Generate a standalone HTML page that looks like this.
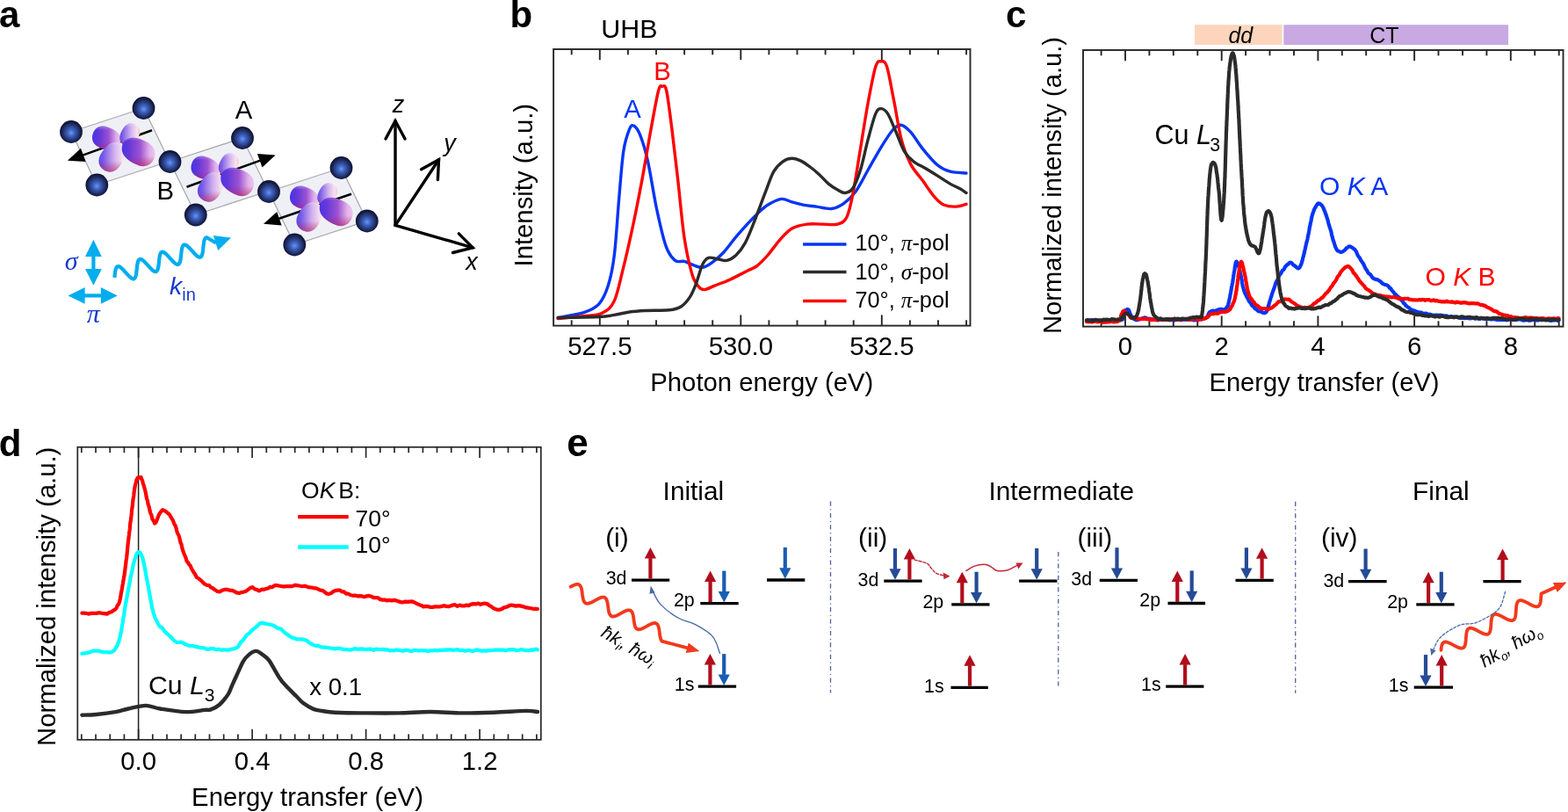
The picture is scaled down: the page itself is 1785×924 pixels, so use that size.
<!DOCTYPE html>
<html><head><meta charset="utf-8"><title>Figure</title>
<style>html,body{margin:0;padding:0;background:#fff;}body{width:1785px;height:924px;overflow:hidden;}svg{display:block;}</style>
</head><body>
<svg width="1785" height="924" viewBox="0 0 1785 924">
<rect width="1785" height="924" fill="#fff"/>
<defs>
<radialGradient id="sph" cx="0.5" cy="0.52" r="0.5" fx="0.5" fy="0.55">
<stop offset="0" stop-color="#6697f6"/><stop offset="0.3" stop-color="#4063c0"/><stop offset="0.68" stop-color="#243572"/><stop offset="0.9" stop-color="#141c44"/><stop offset="1" stop-color="#0c1130"/>
</radialGradient>
<linearGradient id="lobeA" x1="0" y1="0" x2="1" y2="1">
<stop offset="0" stop-color="#3b2be0"/><stop offset="0.35" stop-color="#8a3fd0"/><stop offset="0.65" stop-color="#e89ad8"/><stop offset="1" stop-color="#f07a70"/>
</linearGradient>
<linearGradient id="lobeB" x1="0" y1="0" x2="1" y2="0.6">
<stop offset="0" stop-color="#4030e8"/><stop offset="0.3" stop-color="#c8a0f0"/><stop offset="0.6" stop-color="#fbe6ee"/><stop offset="1" stop-color="#f0a070"/>
</linearGradient>
<linearGradient id="lobeC" x1="0" y1="0" x2="0.9" y2="1">
<stop offset="0" stop-color="#3a2ce6"/><stop offset="0.4" stop-color="#6a36c8"/><stop offset="0.75" stop-color="#b24cc0"/><stop offset="1" stop-color="#d85a8a"/>
</linearGradient>
</defs><text x="-1" y="31" font-family="'Liberation Sans', Arial, Helvetica, sans-serif" font-size="42" text-anchor="start" font-weight="bold" font-style="normal" fill="#000" >a</text><text x="580.5" y="31" font-family="'Liberation Sans', Arial, Helvetica, sans-serif" font-size="42" text-anchor="start" font-weight="bold" font-style="normal" fill="#000" >b</text><text x="1145" y="30.8" font-family="'Liberation Sans', Arial, Helvetica, sans-serif" font-size="42" text-anchor="start" font-weight="bold" font-style="normal" fill="#000" >c</text><text x="-1.2" y="519" font-family="'Liberation Sans', Arial, Helvetica, sans-serif" font-size="42" text-anchor="start" font-weight="bold" font-style="normal" fill="#000" >d</text><text x="645.3" y="519" font-family="'Liberation Sans', Arial, Helvetica, sans-serif" font-size="44" text-anchor="start" font-weight="bold" font-style="normal" fill="#000" >e</text><path d="M635.2 361.5C640.1 360.5 656.8 358.2 664.6 355.6C672.4 353 677.3 351 681.9 345.9C686.5 340.8 689.4 334.3 692.3 325.1C695.2 315.9 697.3 306.6 699.3 290.5C701.3 274.4 702.8 247.8 704.5 228.2C706.2 208.6 707.7 186.3 709.7 172.7C711.7 159.1 714.6 151.7 716.6 146.8C718.6 141.9 719.8 142.2 721.8 143.3C723.8 144.5 726.1 147.1 728.7 153.7C731.3 160.3 734.2 169 737.4 183.1C740.6 197.2 744.2 222.3 747.7 238.5C751.2 254.7 754.6 270.5 758.1 280.1C761.6 289.8 765 293.5 768.5 296.4C772 299.3 775.4 296.5 778.9 297.4C782.4 298.3 785.8 300.5 789.3 301.6C792.8 302.8 796.2 304.7 799.7 304.3C803.2 303.9 806.1 302.1 810.1 299.2C814.1 296.3 819.3 291.9 823.9 287C828.5 282.1 833.2 275.2 837.8 269.7C842.4 264.2 847.6 258.5 851.6 254.1C855.6 249.7 858.3 246.9 862 243.4C865.7 239.9 869.3 236.1 873.9 233.3C878.5 230.5 884.8 227 889.4 226.4C894 225.8 897.3 228.8 901.6 229.9C905.9 231.1 910.8 232.4 915.4 233.3C920 234.2 924.1 234.4 929.3 235.1C934.5 235.8 941.4 238.1 946.6 237.5C951.8 236.9 955.8 234.9 960.4 231.6C965 228.3 969.7 224 974.3 217.7C978.9 211.3 983.5 201.6 988.1 193.5C992.7 185.4 997.4 176.8 1002 169.3C1006.6 161.8 1011.9 153 1015.8 148.5C1019.7 144 1022 142 1025.5 142.3C1029 142.6 1032.4 145.7 1036.6 150.2C1040.8 154.7 1045.2 163 1050.4 169.3C1055.6 175.7 1062.6 184 1067.8 188.3C1073 192.6 1076.2 193.8 1081.6 195.2C1087 196.6 1096.9 196.7 1100 197" fill="none" stroke="#0535f5" stroke-width="3.4" stroke-linejoin="round" stroke-linecap="round" /><path d="M635.2 362.5C640.1 362.1 656.2 360.8 664.6 359.8C673 358.8 679.6 359.2 685.4 356.3C691.2 353.4 695.2 351.1 699.3 342.4C703.3 333.7 706.2 318.1 709.7 304.3C713.2 290.5 716.5 275.4 720 259.3C723.5 243.2 726.9 225.9 730.4 207.4C733.9 188.9 737.6 165.8 740.8 148.5C744 131.2 747.3 111.9 749.5 103.5C751.7 95.1 752.5 98.3 754 98.3C755.5 98.3 756.9 95.1 758.8 103.5C760.6 111.9 762.9 131.2 765.1 148.5C767.3 165.8 769.7 187.2 772 207.4C774.3 227.6 776.3 252.4 778.9 269.7C781.5 287 785 302.1 787.6 311.3C790.2 320.5 792.2 322.1 794.5 325.1C796.8 328.2 798.2 329.6 801.4 329.6C804.6 329.6 808.6 327 813.5 325.1C818.4 323.2 824.5 321.1 830.9 318.2C837.2 315.3 846.4 310.4 851.6 307.8C856.8 305.2 858.3 305.2 862 302.3C865.7 299.4 869.6 295.4 873.9 290.5C878.2 285.6 883.1 278.2 887.7 273.1C892.3 268 896.4 263 901.6 260C906.8 257 913.1 255.9 918.9 255.1C924.7 254.3 930.4 255.1 936.2 255.1C942 255.1 948.9 256.4 953.5 255.1C958.1 253.8 961 252.8 963.9 247.2C966.8 241.5 968.2 234.2 970.8 221.2C973.4 208.2 976.6 186.6 979.5 169.3C982.4 152 985.2 132.9 988.1 117.3C991 101.7 994.3 83.7 996.8 75.8C999.3 67.9 1000.9 69.8 1003 69.8C1005.1 69.8 1007.2 68.4 1009.6 75.8C1012 83.2 1014.7 100.1 1017.5 113.9C1020.3 127.8 1023 146.8 1026.2 158.9C1029.4 171 1032.6 178.8 1036.6 186.6C1040.6 194.4 1045.8 199.2 1050.4 205.6C1055 211.9 1060.2 220.1 1064.3 224.7C1068.3 229.3 1070.7 231.6 1074.7 233.3C1078.7 235 1084.3 235.3 1088.5 235.1C1092.7 234.9 1098.1 232.8 1100 232.3" fill="none" stroke="#ff0000" stroke-width="3.4" stroke-linejoin="round" stroke-linecap="round" /><path d="M635.2 361.5C643 361.3 671.3 361 682 360.5C692.7 360 693.5 359.3 699.3 358.4C705.1 357.5 710.8 355.8 716.6 355C722.4 354.2 726.4 353.9 733.9 353.5C741.4 353.1 754.7 353.6 761.6 352.8C768.5 352 771.5 351.3 775.5 348.7C779.5 346.1 782.9 341.8 785.8 337.3C788.7 332.8 790.5 327.8 792.8 321.7C795.1 315.6 797.4 305.6 799.7 300.9C802 296.2 803.7 294.3 806.6 293.3C809.5 292.3 813.5 294.2 817 294.7C820.5 295.2 823.9 297.1 827.4 296.4C830.9 295.7 834.3 293.8 837.8 290.5C841.3 287.2 844.7 283 848.2 276.6C851.7 270.2 854.9 261.6 858.6 252.4C862.3 243.2 866.7 230.7 870.4 221.2C874.1 211.7 877.3 201.4 880.8 195.2C884.3 189 887.7 186.3 891.2 183.8C894.7 181.3 898.2 180.4 901.6 180.3C905 180.2 908.5 181.5 911.9 183.1C915.3 184.7 918.8 187.4 922.3 190C925.8 192.6 929.2 195.5 932.7 198.7C936.2 201.9 939.6 206.2 943.1 209.1C946.6 212 950.3 214.3 953.5 216C956.7 217.7 959.2 219.8 962.1 219.5C965 219.2 967.9 218.6 970.8 214.3C973.7 210 976.6 202.7 979.5 193.5C982.4 184.3 985.2 169.6 988.1 158.9C991 148.2 994.3 135.3 996.8 129.4C999.3 123.5 1000.7 123.6 1003 123.6C1005.3 123.6 1007.9 125.2 1010.6 129.4C1013.3 133.6 1016.1 141.3 1019.3 148.5C1022.5 155.7 1026.2 166.8 1029.7 172.7C1033.2 178.6 1036 180.6 1040 183.8C1044 187 1049.3 189 1053.9 191.8C1058.5 194.6 1063.2 197.5 1067.8 200.4C1072.4 203.3 1077.6 206.8 1081.6 209.1C1085.6 211.4 1088.9 212.6 1092 214.3C1095.1 216 1098.7 218.6 1100 219.5" fill="none" stroke="#2b2b2b" stroke-width="3.4" stroke-linejoin="round" stroke-linecap="round" /><rect x="630.1" y="56" width="474.4" height="314.6" fill="none" stroke="#262626" stroke-width="1.9"/><line x1="650.7" y1="56" x2="650.7" y2="62.3" stroke="#262626" stroke-width="1.9" stroke-linecap="butt" /><line x1="650.7" y1="370.6" x2="650.7" y2="364.3" stroke="#262626" stroke-width="1.9" stroke-linecap="butt" /><line x1="714.9" y1="56" x2="714.9" y2="62.3" stroke="#262626" stroke-width="1.9" stroke-linecap="butt" /><line x1="714.9" y1="370.6" x2="714.9" y2="364.3" stroke="#262626" stroke-width="1.9" stroke-linecap="butt" /><line x1="747" y1="56" x2="747" y2="62.3" stroke="#262626" stroke-width="1.9" stroke-linecap="butt" /><line x1="747" y1="370.6" x2="747" y2="364.3" stroke="#262626" stroke-width="1.9" stroke-linecap="butt" /><line x1="779.1" y1="56" x2="779.1" y2="62.3" stroke="#262626" stroke-width="1.9" stroke-linecap="butt" /><line x1="779.1" y1="370.6" x2="779.1" y2="364.3" stroke="#262626" stroke-width="1.9" stroke-linecap="butt" /><line x1="811.2" y1="56" x2="811.2" y2="62.3" stroke="#262626" stroke-width="1.9" stroke-linecap="butt" /><line x1="811.2" y1="370.6" x2="811.2" y2="364.3" stroke="#262626" stroke-width="1.9" stroke-linecap="butt" /><line x1="875.4" y1="56" x2="875.4" y2="62.3" stroke="#262626" stroke-width="1.9" stroke-linecap="butt" /><line x1="875.4" y1="370.6" x2="875.4" y2="364.3" stroke="#262626" stroke-width="1.9" stroke-linecap="butt" /><line x1="907.5" y1="56" x2="907.5" y2="62.3" stroke="#262626" stroke-width="1.9" stroke-linecap="butt" /><line x1="907.5" y1="370.6" x2="907.5" y2="364.3" stroke="#262626" stroke-width="1.9" stroke-linecap="butt" /><line x1="939.6" y1="56" x2="939.6" y2="62.3" stroke="#262626" stroke-width="1.9" stroke-linecap="butt" /><line x1="939.6" y1="370.6" x2="939.6" y2="364.3" stroke="#262626" stroke-width="1.9" stroke-linecap="butt" /><line x1="971.7" y1="56" x2="971.7" y2="62.3" stroke="#262626" stroke-width="1.9" stroke-linecap="butt" /><line x1="971.7" y1="370.6" x2="971.7" y2="364.3" stroke="#262626" stroke-width="1.9" stroke-linecap="butt" /><line x1="1035.9" y1="56" x2="1035.9" y2="62.3" stroke="#262626" stroke-width="1.9" stroke-linecap="butt" /><line x1="1035.9" y1="370.6" x2="1035.9" y2="364.3" stroke="#262626" stroke-width="1.9" stroke-linecap="butt" /><line x1="1068" y1="56" x2="1068" y2="62.3" stroke="#262626" stroke-width="1.9" stroke-linecap="butt" /><line x1="1068" y1="370.6" x2="1068" y2="364.3" stroke="#262626" stroke-width="1.9" stroke-linecap="butt" /><line x1="1100.1" y1="56" x2="1100.1" y2="62.3" stroke="#262626" stroke-width="1.9" stroke-linecap="butt" /><line x1="1100.1" y1="370.6" x2="1100.1" y2="364.3" stroke="#262626" stroke-width="1.9" stroke-linecap="butt" /><line x1="682.8" y1="56" x2="682.8" y2="68.2" stroke="#262626" stroke-width="1.9" stroke-linecap="butt" /><line x1="682.8" y1="370.6" x2="682.8" y2="358.4" stroke="#262626" stroke-width="1.9" stroke-linecap="butt" /><line x1="843.3" y1="56" x2="843.3" y2="68.2" stroke="#262626" stroke-width="1.9" stroke-linecap="butt" /><line x1="843.3" y1="370.6" x2="843.3" y2="358.4" stroke="#262626" stroke-width="1.9" stroke-linecap="butt" /><line x1="1003.8" y1="56" x2="1003.8" y2="68.2" stroke="#262626" stroke-width="1.9" stroke-linecap="butt" /><line x1="1003.8" y1="370.6" x2="1003.8" y2="358.4" stroke="#262626" stroke-width="1.9" stroke-linecap="butt" /><text x="682.8" y="404.2" font-family="'Liberation Sans', Arial, Helvetica, sans-serif" font-size="29.3" text-anchor="middle" font-weight="normal" font-style="normal" fill="#000" >527.5</text><text x="843.3" y="404.2" font-family="'Liberation Sans', Arial, Helvetica, sans-serif" font-size="29.3" text-anchor="middle" font-weight="normal" font-style="normal" fill="#000" >530.0</text><text x="1003.8" y="404.2" font-family="'Liberation Sans', Arial, Helvetica, sans-serif" font-size="29.3" text-anchor="middle" font-weight="normal" font-style="normal" fill="#000" >532.5</text><text x="867.3" y="444.6" font-family="'Liberation Sans', Arial, Helvetica, sans-serif" font-size="29.3" text-anchor="middle" font-weight="normal" font-style="normal" fill="#000" >Photon energy (eV)</text><text x="606" y="210.7" font-family="'Liberation Sans', Arial, Helvetica, sans-serif" font-size="29.3" text-anchor="middle" font-weight="normal" font-style="normal" fill="#000" transform="rotate(-90 606 210.7)">Intensity (a.u.)</text><text x="684.3" y="42.6" font-family="'Liberation Sans', Arial, Helvetica, sans-serif" font-size="30.4" text-anchor="start" font-weight="normal" font-style="normal" fill="#000" >UHB</text><text x="720" y="133.6" font-family="'Liberation Sans', Arial, Helvetica, sans-serif" font-size="29.3" text-anchor="middle" font-weight="normal" font-style="normal" fill="#0535f5" >A</text><text x="754" y="91.4" font-family="'Liberation Sans', Arial, Helvetica, sans-serif" font-size="29.3" text-anchor="middle" font-weight="normal" font-style="normal" fill="#ff0000" >B</text><line x1="914.1" y1="278" x2="963.5" y2="278" stroke="#0535f5" stroke-width="3.3" stroke-linecap="butt" /><line x1="914.1" y1="309.5" x2="963.5" y2="309.5" stroke="#2b2b2b" stroke-width="3.3" stroke-linecap="butt" /><line x1="914.1" y1="342.5" x2="963.5" y2="342.5" stroke="#ff0000" stroke-width="3.3" stroke-linecap="butt" /><text x="973.4" y="285.1" font-family="'Liberation Sans', Arial, Helvetica, sans-serif" font-size="25.3" fill="#000">10°, <tspan font-family="'Liberation Serif', 'Times New Roman', serif" font-style="italic">π</tspan>-pol</text><text x="973.4" y="317.5" font-family="'Liberation Sans', Arial, Helvetica, sans-serif" font-size="25.3" fill="#000">10°, <tspan font-family="'Liberation Serif', 'Times New Roman', serif" font-style="italic">σ</tspan>-pol</text><text x="973.4" y="349.9" font-family="'Liberation Sans', Arial, Helvetica, sans-serif" font-size="25.3" fill="#000">70°, <tspan font-family="'Liberation Serif', 'Times New Roman', serif" font-style="italic">π</tspan>-pol</text><rect x="1360" y="28.2" width="99.6" height="22.8" fill="#fdd5bd"/><rect x="1461.3" y="28.2" width="255.8" height="22.8" fill="#c8a9e2"/><text x="1412.3" y="49.4" font-family="'Liberation Sans', Arial, Helvetica, sans-serif" font-size="25" text-anchor="middle" font-weight="normal" font-style="italic" fill="#000" >dd</text><text x="1575.8" y="49.4" font-family="'Liberation Sans', Arial, Helvetica, sans-serif" font-size="25" text-anchor="middle" font-weight="normal" font-style="normal" fill="#000" >CT</text><rect x="1233" y="57" width="546.5" height="314.6" fill="none" stroke="#262626" stroke-width="1.9"/><line x1="1253.6" y1="57" x2="1253.6" y2="63.3" stroke="#262626" stroke-width="1.9" stroke-linecap="butt" /><line x1="1253.6" y1="371.6" x2="1253.6" y2="365.3" stroke="#262626" stroke-width="1.9" stroke-linecap="butt" /><line x1="1308.4" y1="57" x2="1308.4" y2="63.3" stroke="#262626" stroke-width="1.9" stroke-linecap="butt" /><line x1="1308.4" y1="371.6" x2="1308.4" y2="365.3" stroke="#262626" stroke-width="1.9" stroke-linecap="butt" /><line x1="1335.8" y1="57" x2="1335.8" y2="63.3" stroke="#262626" stroke-width="1.9" stroke-linecap="butt" /><line x1="1335.8" y1="371.6" x2="1335.8" y2="365.3" stroke="#262626" stroke-width="1.9" stroke-linecap="butt" /><line x1="1363.3" y1="57" x2="1363.3" y2="63.3" stroke="#262626" stroke-width="1.9" stroke-linecap="butt" /><line x1="1363.3" y1="371.6" x2="1363.3" y2="365.3" stroke="#262626" stroke-width="1.9" stroke-linecap="butt" /><line x1="1418.1" y1="57" x2="1418.1" y2="63.3" stroke="#262626" stroke-width="1.9" stroke-linecap="butt" /><line x1="1418.1" y1="371.6" x2="1418.1" y2="365.3" stroke="#262626" stroke-width="1.9" stroke-linecap="butt" /><line x1="1445.5" y1="57" x2="1445.5" y2="63.3" stroke="#262626" stroke-width="1.9" stroke-linecap="butt" /><line x1="1445.5" y1="371.6" x2="1445.5" y2="365.3" stroke="#262626" stroke-width="1.9" stroke-linecap="butt" /><line x1="1473" y1="57" x2="1473" y2="63.3" stroke="#262626" stroke-width="1.9" stroke-linecap="butt" /><line x1="1473" y1="371.6" x2="1473" y2="365.3" stroke="#262626" stroke-width="1.9" stroke-linecap="butt" /><line x1="1527.8" y1="57" x2="1527.8" y2="63.3" stroke="#262626" stroke-width="1.9" stroke-linecap="butt" /><line x1="1527.8" y1="371.6" x2="1527.8" y2="365.3" stroke="#262626" stroke-width="1.9" stroke-linecap="butt" /><line x1="1555.2" y1="57" x2="1555.2" y2="63.3" stroke="#262626" stroke-width="1.9" stroke-linecap="butt" /><line x1="1555.2" y1="371.6" x2="1555.2" y2="365.3" stroke="#262626" stroke-width="1.9" stroke-linecap="butt" /><line x1="1582.7" y1="57" x2="1582.7" y2="63.3" stroke="#262626" stroke-width="1.9" stroke-linecap="butt" /><line x1="1582.7" y1="371.6" x2="1582.7" y2="365.3" stroke="#262626" stroke-width="1.9" stroke-linecap="butt" /><line x1="1637.5" y1="57" x2="1637.5" y2="63.3" stroke="#262626" stroke-width="1.9" stroke-linecap="butt" /><line x1="1637.5" y1="371.6" x2="1637.5" y2="365.3" stroke="#262626" stroke-width="1.9" stroke-linecap="butt" /><line x1="1665" y1="57" x2="1665" y2="63.3" stroke="#262626" stroke-width="1.9" stroke-linecap="butt" /><line x1="1665" y1="371.6" x2="1665" y2="365.3" stroke="#262626" stroke-width="1.9" stroke-linecap="butt" /><line x1="1692.4" y1="57" x2="1692.4" y2="63.3" stroke="#262626" stroke-width="1.9" stroke-linecap="butt" /><line x1="1692.4" y1="371.6" x2="1692.4" y2="365.3" stroke="#262626" stroke-width="1.9" stroke-linecap="butt" /><line x1="1747.2" y1="57" x2="1747.2" y2="63.3" stroke="#262626" stroke-width="1.9" stroke-linecap="butt" /><line x1="1747.2" y1="371.6" x2="1747.2" y2="365.3" stroke="#262626" stroke-width="1.9" stroke-linecap="butt" /><line x1="1774.7" y1="57" x2="1774.7" y2="63.3" stroke="#262626" stroke-width="1.9" stroke-linecap="butt" /><line x1="1774.7" y1="371.6" x2="1774.7" y2="365.3" stroke="#262626" stroke-width="1.9" stroke-linecap="butt" /><line x1="1281" y1="57" x2="1281" y2="69.2" stroke="#262626" stroke-width="1.9" stroke-linecap="butt" /><line x1="1281" y1="371.6" x2="1281" y2="359.4" stroke="#262626" stroke-width="1.9" stroke-linecap="butt" /><line x1="1390.7" y1="57" x2="1390.7" y2="69.2" stroke="#262626" stroke-width="1.9" stroke-linecap="butt" /><line x1="1390.7" y1="371.6" x2="1390.7" y2="359.4" stroke="#262626" stroke-width="1.9" stroke-linecap="butt" /><line x1="1500.4" y1="57" x2="1500.4" y2="69.2" stroke="#262626" stroke-width="1.9" stroke-linecap="butt" /><line x1="1500.4" y1="371.6" x2="1500.4" y2="359.4" stroke="#262626" stroke-width="1.9" stroke-linecap="butt" /><line x1="1610.1" y1="57" x2="1610.1" y2="69.2" stroke="#262626" stroke-width="1.9" stroke-linecap="butt" /><line x1="1610.1" y1="371.6" x2="1610.1" y2="359.4" stroke="#262626" stroke-width="1.9" stroke-linecap="butt" /><line x1="1719.8" y1="57" x2="1719.8" y2="69.2" stroke="#262626" stroke-width="1.9" stroke-linecap="butt" /><line x1="1719.8" y1="371.6" x2="1719.8" y2="359.4" stroke="#262626" stroke-width="1.9" stroke-linecap="butt" /><path d="M1237 364.8L1237.9 364.5L1239 364.2L1240.2 364.5L1241.7 364.3L1243.2 364.1L1244.8 364.5L1246.6 365.2L1248.4 365.3L1250.3 365.3L1252.3 364.6L1254.3 364.8L1256.2 364.5L1258.2 364.3L1260.2 364.1L1262.1 364.2L1264 365.1L1265.8 365.2L1267.5 365.2L1269.1 365.2L1270.5 364.3L1271.9 364.2L1273 364.5L1274 364.6L1277.8 363.8L1278 362.4L1278 359.7L1278.8 358.4L1279.6 356.8L1280.3 354.9L1281 353.1L1283.5 351.9L1284.7 352.4L1286 355.4L1286.6 357.1L1287.3 358.5L1288 359.9L1289 362L1290.7 362.9L1292.7 363.8L1295 364.1L1296.5 363.5L1298.1 362.9L1299.8 362.5L1301.4 361.9L1303 361.4L1304.3 361.6L1305.1 362.8L1306.7 362.6L1310 362.8L1311.1 363.5L1312.3 363.3L1313.7 363.6L1315.1 363.7L1316.7 363.6L1318.3 364.4L1320 363.7L1321.8 363.7L1323.6 363.5L1325.4 364L1327.3 363.7L1329.1 363.8L1331 364.3L1332.9 363.9L1334.7 364.1L1336.5 364.6L1338.3 363.7L1340 363.3L1341.7 363.4L1343.5 364.1L1345.3 364.1L1347.1 363.6L1349 363.6L1350.8 363.4L1352.7 363.6L1354.6 363.2L1356.4 363.8L1358.2 364.2L1359.9 364.3L1361.6 364L1363.3 364.1L1364.8 362.9L1366.3 362.7L1367.6 363.4L1368.9 363.2L1370 362.5L1372.6 362.1L1374.1 360.6L1375.1 359.3L1375.8 357.2L1376.6 355.6L1377.8 354.8L1379.4 353.8L1381.2 353.6L1383 354.1L1384.9 353.3L1386.7 352.5L1388.4 351.9L1390.3 351.8L1392.2 352.6L1394 352.1L1395.7 351L1397.2 348.6L1397.7 348.6L1398.1 347L1398.5 345.2L1398.9 343.4L1399.3 341.7L1399.7 340.1L1400 339L1400.3 336.6L1400.7 334.5L1401 333.1L1401.3 331.1L1401.6 330.2L1401.9 327.5L1402.2 326.1L1402.5 324.9L1402.8 322.8L1403.2 321.6L1403.5 319.3L1403.8 317L1404.1 315.3L1404.3 313L1404.6 311.6L1404.9 309.8L1405.1 309L1405.4 307.7L1405.6 305.9L1405.8 304L1406 302.9L1406.6 299.5L1407.1 297.7L1407.7 297.6L1408.2 298.9L1408.7 299.1L1409.3 300L1409.9 302.7L1410.6 304.6L1411.3 307.7L1411.6 308.3L1411.9 310.1L1412.2 311.4L1412.5 313.1L1412.7 314.7L1413 316.2L1413.4 317.4L1413.7 319.2L1414 321.8L1414.4 323.9L1414.8 325.8L1415.2 326.9L1415.6 328.7L1416.1 330.6L1416.6 331.9L1417.3 333.8L1418.1 335.2L1418.9 337L1419.7 338.7L1420.6 339.8L1421.5 342L1422.5 343.7L1423.4 344.1L1424.4 346.2L1425.3 347.7L1426.2 348.6L1427.1 348.8L1428.6 351.2L1430.2 351.8L1431.8 353.7L1433.3 354.5L1434.8 354.4L1436.1 354.8L1437.3 355.7L1439.3 356.1L1440.8 355.8L1442.2 353.9L1442.7 352.1L1443.1 350.4L1443.6 350L1444 347.6L1444.5 346.8L1444.9 344.3L1445.4 343.2L1445.9 341.5L1446.4 339.9L1447 337.7L1447.5 336.7L1448 334.4L1448.5 333.3L1449.1 331.4L1449.6 330.4L1450.2 328.8L1450.8 326.8L1451.4 325.2L1452 323L1452.6 321.3L1453.1 320.5L1453.7 319.2L1454.3 318.4L1455.2 316.4L1456.1 313.9L1457.1 312.4L1458 311.4L1458.9 309.8L1459.9 307.7L1460.8 307.3L1461.7 306.3L1462.9 303.8L1464.1 302.6L1465.4 301.1L1466.6 300.5L1467.8 299.2L1469 298.6L1470.5 299.3L1472 301.3L1473.6 302.1L1475 303.3L1476.3 304.6L1478 305.5L1479.4 304.6L1481.1 301L1481.4 300.4L1481.8 299.4L1482.2 297.2L1482.6 296.6L1483 294.4L1483.4 292.8L1483.8 291.8L1484.2 289.7L1484.7 288.3L1485.1 285.8L1485.5 284.7L1486 282.1L1486.4 280L1486.8 278.5L1487.2 276.6L1487.6 275.1L1488 273.9L1488.4 272.1L1488.8 269.6L1489.1 268L1489.5 266.6L1489.8 264.8L1490.2 263.3L1490.5 261.3L1490.8 259L1491.2 257.2L1491.5 256.2L1491.8 254.1L1492.1 252.8L1492.5 251.6L1492.8 249.7L1493.1 248.1L1493.5 246.5L1493.8 244.8L1494.1 244.1L1494.5 242.6L1495.3 240.7L1496.2 238L1497 236.7L1497.9 235.2L1498.7 233.8L1499.6 232.5L1500.5 231.5L1501.3 231.8L1502.4 231.7L1503.5 232.8L1504.6 233.5L1505.7 235.1L1506.8 237.2L1507.9 240.3L1508.4 241L1508.9 243.1L1509.5 244.1L1510 245.8L1510.5 247.2L1511 249.2L1511.5 250.4L1512 252.3L1512.5 254.9L1513 255.9L1513.5 258L1514 259.4L1514.5 260.9L1515 262.2L1515.4 263.8L1515.9 266.7L1516.4 268.7L1516.9 270.4L1517.4 272.2L1517.8 274.1L1518.3 274.8L1518.8 276.5L1519.2 277.9L1519.7 279.3L1520.1 280.9L1521.4 283.5L1522.6 285.5L1523.8 285.5L1525 286.5L1526.6 286.9L1528.1 286.5L1529.8 285.4L1531.2 284.4L1532.8 282.3L1534.3 281.5L1535.9 280.3L1537.4 280.5L1538.9 281.6L1540.4 282.6L1542 283.8L1542.8 284.6L1543.7 285.9L1544.5 287.7L1545.4 289.9L1546.3 291.6L1547.3 292.7L1548.3 294.2L1549.3 296.5L1550.1 297.3L1550.9 298.7L1551.8 299.7L1552.6 301.3L1553.5 303.4L1554.4 305.3L1555.4 306.8L1556.3 308L1557.2 310L1558.1 311.1L1559 311.6L1560.4 312.7L1561.7 315L1563.1 316.4L1564.4 317.3L1565.8 317.7L1567.3 318.1L1568.8 318.6L1570.2 319.6L1571.7 320.4L1573.2 322.1L1574.8 323.1L1576.3 323.8L1577.9 324L1579.5 324.9L1581 326.1L1582.1 327.9L1583.2 328.3L1584.3 330.1L1585.4 331.3L1586.5 332.5L1587.6 334.3L1588.7 334.8L1589.8 336.3L1590.9 337.1L1592 338.1L1593.1 339.1L1594.3 340.7L1595.5 341.7L1596.7 342.8L1597.9 345.1L1599 345.7L1600.2 347.5L1601.5 348.5L1602.7 349.5L1604 350.3L1605.3 351.6L1606.8 352.5L1608.3 353L1609.9 353.5L1611.5 354.2L1613.1 354.9L1614.8 355.2L1616.4 355.6L1618.2 355.6L1619.9 356.8L1621.4 356.9L1622.8 356.7L1624.2 356.9L1625.6 358L1627.1 357.7L1628.6 357.9L1630.4 358.4L1632.3 358.9L1634.5 358.6L1637 358.7L1638.2 358.9L1639.5 358.5L1640.9 359.6L1642.3 358.9L1643.7 360L1645.2 359.4L1646.8 359.3L1648.3 360.2L1649.9 360.6L1651.6 360L1653.3 360.4L1655 360.5L1656.7 360.9L1658.5 360.5L1660.3 361.2L1662.1 361.8L1664 361.7L1665.9 362L1667.7 362.2L1669.7 361.6L1671.6 362.1L1673.5 362.4L1674.9 362.2L1676.4 361.6L1677.9 362.1L1679.4 362.7L1680.9 362.1L1682.4 362.4L1684 362.9L1685.5 362.7L1687.1 362L1688.7 362.6L1690.3 362.4L1691.9 363.1L1693.6 363.1L1695.2 362.7L1696.9 363.4L1698.5 363.3L1700.2 363L1701.9 363.5L1703.6 363.8L1705.2 364L1706.9 364L1708.6 363.8L1710.3 363.8L1712 363.8L1713.7 363.7L1715.4 364.3L1717.1 363.7L1718.8 363.2L1720.5 363.9L1722.2 363.8L1723.8 363.9L1725.5 364L1727.2 363.6L1728.9 363.5L1730.7 363.3L1732.5 364.1L1734.4 364.6L1736.2 364.5L1738.1 363.7L1740 364.6L1741.9 364.7L1743.8 364.3L1745.8 363.6L1747.6 364.4L1749.5 364.4L1751.4 364.4L1753.2 363.6L1755 364.3L1756.8 363.7L1758.6 364L1760.3 363.7L1761.9 363.9L1763.5 364.6L1765 364.7L1766.5 364.8L1767.9 364.2L1769.2 364.1L1770.4 364.4L1771.6 363.7L1772.7 364L1773.6 364.8L1774.5 364.3" fill="none" stroke="#0535f5" stroke-width="4.2" stroke-linejoin="round" stroke-linecap="round" /><path d="M1237 366.2L1237.9 365.9L1239.1 366.1L1240.4 366L1241.9 366.3L1243.6 366.4L1245.4 365.7L1247.2 365.5L1249.2 366.4L1251.2 366L1253.2 365.8L1255.3 366.8L1257.3 366.4L1259.4 366.7L1261.3 366.3L1263.2 366.4L1265.1 365.7L1266.8 366.1L1268.3 366.4L1269.7 366L1271 366.1L1272 365.9L1275.2 364.1L1276 363.4L1275.8 361.8L1276 359.8L1276.8 357.5L1277.6 356.3L1278.4 354.3L1279.3 353.7L1280.4 354.3L1281.6 355.4L1283 357.2L1284.6 358.1L1285.5 359.2L1286 359.7L1286.7 361.1L1287.9 362L1290 361.7L1293.4 362L1294.4 362.2L1295.6 363.2L1296.8 362.9L1298.1 363.1L1299.5 362.8L1301 363L1302.5 362.9L1304.2 362.9L1305.8 363.2L1307.5 363.3L1309.3 363.8L1311 363.7L1312.9 363.9L1314.7 363.9L1316.5 364.1L1318.4 363.8L1320.2 363L1322 363.7L1323.9 364L1325.7 364L1327.4 363.6L1329.2 363.7L1330.9 363L1332.5 363.6L1334.1 363.5L1335.6 363.1L1337.4 362.7L1339.2 363.6L1341 364L1342.8 363L1344.6 363.6L1346.5 363.3L1348.3 362.9L1350.1 362.9L1351.9 363.5L1353.7 363.8L1355.4 362.9L1357.1 363.3L1358.8 362.7L1360.4 363.3L1361.9 363L1363.4 363.5L1364.9 363.8L1366.2 363.2L1367.5 363.6L1368.7 362.8L1369.8 362.2L1370.8 362.6L1373.9 361.3L1375.5 360.4L1376.1 359.6L1376.6 358.9L1377.8 357.6L1379.4 356.8L1381.1 357.3L1382.9 356.5L1384.7 356.8L1386.6 356.6L1388.4 355.5L1390.2 355.1L1392.1 355L1393.9 355L1395.7 354.7L1397.4 354L1399 352.9L1400 352.3L1400.9 350.8L1401.7 349.3L1402.5 348.2L1403.3 346.2L1404 344.4L1404.7 343.4L1405.4 341L1406 338.7L1406.3 336.7L1406.6 335.6L1406.9 334.3L1407.2 332L1407.5 330.8L1407.7 329.2L1408 326.7L1408.2 325.4L1408.5 323.5L1408.7 321.9L1408.9 319.7L1409.2 318.3L1409.4 316.7L1409.6 314.2L1409.8 312.5L1410 311.8L1410.2 311.1L1410.7 307.6L1411.1 305L1411.5 302.9L1411.8 300.7L1412.2 299.1L1412.6 298.1L1413 297.8L1413.4 298.4L1413.8 298.9L1414.2 300.2L1414.6 302.3L1415.1 303.4L1415.6 305.9L1416.1 308.5L1416.6 310.3L1416.9 311.4L1417.2 313.5L1417.5 314.6L1417.8 316L1418.1 318L1418.4 320.2L1418.7 321.4L1419 323.4L1419.4 325.2L1419.7 327.7L1420.1 329.1L1420.5 331.2L1420.9 332.1L1421.3 333.5L1421.8 335.2L1422.6 337.6L1423.5 338.9L1424.5 340.1L1425.4 341.3L1426.5 343L1427.5 343.9L1428.6 345.7L1429.6 347L1430.6 347.2L1432.1 348.3L1433.7 349.9L1435.2 350.6L1436.8 351.3L1438.3 351.2L1439.7 351.1L1441.7 351.5L1443.5 352.1L1445.2 351.4L1447 350.6L1448.4 349.8L1449.8 348.6L1451.2 347.3L1452.7 346.5L1454.3 344.5L1455.8 343.1L1457.5 343.1L1459.2 342.3L1460.9 341.6L1462.6 340.4L1464.1 340.5L1465.7 340.8L1467.2 340.5L1468.6 341.8L1470 343.1L1471.4 344L1472.8 344.8L1474.2 345.7L1475.6 347L1477.1 348L1478.7 348.5L1480.1 349.6L1481.7 349.7L1483.2 350.6L1484.9 349.8L1486.6 350.5L1488.4 350.1L1489.8 349.8L1491.3 349.2L1492.8 348.5L1494.3 347.2L1495.9 345.3L1497.5 344.9L1499.1 343.2L1500.6 342L1501.8 341.5L1503.1 340.4L1504.3 339.1L1505.6 338.5L1506.9 337.1L1508.1 335.4L1509.3 333.8L1510.5 333.2L1511.7 331.6L1512.8 330.6L1513.9 328.7L1514.9 327L1516 325.8L1517 324.7L1518 322.4L1518.9 321.5L1519.8 320.3L1520.8 318.8L1521.6 317.5L1522.5 315.2L1523.7 313.9L1524.8 312.7L1525.9 310.2L1527 308.8L1528 307.5L1528.9 306.7L1529.8 305.7L1531.4 304.1L1532.8 303.7L1534.2 302.9L1535.4 303.2L1536.6 304.2L1537.9 305.6L1539.6 307.6L1540.4 309.7L1541.3 311.1L1542.2 311.5L1543.2 313.1L1544.2 314.4L1545.2 315.9L1546.3 317.4L1547.3 319.2L1548.3 320.6L1549.3 321.6L1550.5 322.7L1551.7 324.2L1552.8 325.2L1554 327L1555.2 328.5L1556.4 329.3L1557.7 329.9L1559 330.8L1560.4 331.9L1561.8 333.1L1563.2 334.1L1564.6 334.3L1566.2 335.2L1567.7 335.6L1569.4 335.8L1571.2 336.1L1572.7 336.6L1574.2 337.2L1575.7 337.2L1577.3 337.7L1579 337.7L1580.7 337.5L1582.5 338L1584.3 338.5L1586.3 338L1588.3 338.5L1589.7 338.7L1591.2 339.5L1592.7 339.9L1594.3 339.4L1595.9 340.1L1597.5 340.2L1599.2 339.7L1600.8 340L1602.5 339.7L1604.2 340.6L1605.9 340.8L1607.6 341.3L1609.3 341.4L1611 341.3L1612.6 341.5L1614.2 341.4L1615.8 340.9L1617.5 341.4L1619.1 340.9L1620.7 341L1622.4 341.8L1624 341.2L1625.6 341.1L1627.2 341.2L1628.9 342.2L1630.5 341.7L1632.1 341.4L1633.8 342.4L1635.4 341.9L1637 342.7L1638.6 342.8L1640.3 343.1L1641.9 343.5L1643.5 343.2L1645.2 343.5L1646.8 342.7L1648.5 343.5L1650.1 343.5L1651.8 343.8L1653.4 343.3L1655 344L1656.6 344.5L1658.2 343.7L1659.7 343.8L1661.3 344.3L1663.1 344.8L1664.9 344.4L1666.8 344.2L1668.6 344.3L1670.4 344.9L1672.3 345.3L1674 345.1L1675.8 345.1L1677.4 345.2L1679 345.3L1680.5 345.5L1681.9 345.2L1683.2 345.8L1685.5 347L1687.4 346.9L1688.9 347.7L1690.2 347.6L1691.5 348.7L1693 349.6L1694.6 350.3L1696.1 350.9L1697.7 351.8L1699.3 352.9L1700.9 354.2L1702.7 354.2L1704.1 354.6L1705.4 355.9L1706.8 357L1708.2 357.3L1709.7 357.7L1711.3 358.6L1713 358.6L1714.9 359L1716.2 359.2L1717.5 359.9L1718.8 360L1720.1 360L1721.5 360.8L1722.9 361.5L1724.4 361L1726.1 361.5L1727.9 361.4L1729.9 362L1732 361.9L1734.4 361.6L1735.7 361.4L1737 361.2L1738.5 361.7L1740.1 361.8L1741.7 361.6L1743.5 361.7L1745.3 361.8L1747.1 362.4L1749 361.8L1750.9 362.7L1752.8 362.3L1754.7 362.4L1756.6 362.2L1758.5 362.6L1760.4 362.8L1762.2 362.5L1763.9 362.3L1765.6 362.5L1767.2 362.8L1768.7 362.3L1770.1 362.6L1771.4 362.9L1772.6 362.4L1773.6 362L1774.5 362.3" fill="none" stroke="#ff0000" stroke-width="4.2" stroke-linejoin="round" stroke-linecap="round" /><path d="M1237 364.3L1237.9 364.4L1239 364.6L1240.3 364.7L1241.7 364.9L1243.2 364.7L1244.9 364.9L1246.6 363.8L1248.5 364L1250.4 364.6L1252.3 364.4L1254.3 364.7L1256.3 363.7L1258.2 363.9L1260.2 363.6L1262 363.9L1263.8 364L1265.6 363.2L1267.2 363.3L1268.7 363.3L1270 364.1L1271.2 364.1L1272.2 363.3L1276.1 363.5L1276.7 362.3L1277 362L1278.7 359.8L1280 357.7L1282.3 356.5L1284 357.1L1286 358.6L1287.5 360.5L1289 361.6L1290.5 361.2L1291.9 361.6L1293.2 360.4L1294.5 358.3L1294.9 356.7L1295.2 356.2L1295.6 354.7L1295.9 353.5L1296.3 351.9L1296.6 349.5L1297 347.5L1297.3 345.4L1297.6 343.5L1297.9 341.5L1298.1 340.2L1298.3 339.1L1298.5 336.8L1298.7 335.7L1298.9 333.7L1299.1 331.8L1299.3 330.6L1299.5 328.6L1299.6 326.6L1299.8 325.1L1300 323.9L1300.2 321.8L1300.4 321.5L1300.8 318L1301.3 316.3L1301.7 314.6L1302.2 312.1L1302.7 311.8L1303.2 311.1L1303.7 311.6L1304.3 311.7L1304.9 313L1305.4 315L1306.1 318.5L1306.7 320.7L1306.9 322.4L1307.2 324.2L1307.4 325.8L1307.6 326.7L1307.9 328.3L1308.1 330.2L1308.4 332.4L1308.6 333.6L1308.9 336.1L1309.1 338.2L1309.4 340.3L1309.6 341.1L1309.9 343.7L1310.2 344.6L1310.4 346.2L1310.7 348L1311 349.7L1311.5 351.5L1311.9 354.2L1312.3 355.7L1312.7 356.8L1313.2 358.1L1313.9 359L1314.9 359.9L1316.2 360.9L1317.3 362.1L1318.5 363.1L1319.8 362.6L1321.3 362.4L1322.8 363.7L1324.5 363.5L1326.2 363.3L1328 363.1L1329.8 363.4L1331.7 363.8L1333.6 363.4L1335.6 363.2L1337.1 362.7L1338.7 363.6L1340.3 362.6L1342.1 362.9L1344 363.3L1345.8 362.5L1347.7 362.9L1349.6 363.1L1351.5 362.7L1353.4 362.6L1355.2 361.6L1356.9 361.6L1358.6 361L1360.1 361.5L1361.5 360.8L1362.7 360.6L1363.8 361L1366.3 360.6L1367.6 360.8L1368.1 359.7L1368.4 357.5L1369 353L1369.1 351.8L1369.2 350.5L1369.4 349.4L1369.5 348L1369.6 347L1369.7 346.5L1369.8 345.4L1370 343.7L1370.1 342L1370.2 340.2L1370.3 338.3L1370.4 336.8L1370.5 335.9L1370.6 334.5L1370.7 332.3L1370.8 331L1370.9 329.4L1371 327.5L1371.1 325.7L1371.2 324L1371.3 321.7L1371.4 320.2L1371.5 317.9L1371.6 316.2L1371.7 314.7L1371.8 312.9L1371.9 310.6L1372 309.4L1372.1 307.4L1372.2 305.4L1372.3 302.9L1372.3 301.5L1372.4 299.5L1372.5 298.2L1372.6 296.4L1372.7 295.2L1372.8 293.6L1372.8 292.2L1372.9 290L1373 288.6L1373 287.1L1373.1 285.6L1373.2 283.4L1373.2 282.2L1373.3 280.6L1373.4 278.7L1373.4 277.3L1373.5 275.7L1373.5 273.4L1373.6 271.5L1373.7 269.3L1373.7 268.2L1373.8 266.8L1373.8 264.6L1373.9 263L1373.9 261.4L1374 259.7L1374 257.3L1374.1 256.2L1374.2 254.4L1374.2 252.8L1374.3 250.9L1374.3 249.4L1374.4 248.1L1374.4 246.4L1374.5 244.9L1374.6 242.5L1374.6 240.9L1374.7 239.7L1374.7 238.6L1374.8 236.8L1374.9 235.8L1374.9 234.5L1375 232.5L1375.1 230.7L1375.2 228.4L1375.3 226.1L1375.4 224.1L1375.6 222.4L1375.7 220.4L1375.8 218.5L1375.9 216.4L1376 215.1L1376.1 213.4L1376.3 212L1376.4 210.4L1376.5 208.4L1376.6 207.5L1376.7 205.1L1376.8 203.9L1377 202.3L1377.1 201.1L1377.2 199.5L1377.3 199L1377.4 197.5L1377.6 195.8L1377.7 195.3L1377.8 193.8L1378.3 190.7L1378.7 188.2L1379.2 186.8L1379.7 186.3L1380.2 185.7L1380.7 184.9L1381.5 185.1L1382.4 185.7L1383.3 187.3L1384.2 190.3L1384.4 191.9L1384.6 193.2L1384.8 195L1385 196.6L1385.3 197.7L1385.5 198.9L1385.7 201.1L1385.9 201.9L1386.1 203.6L1386.3 205.9L1386.5 208L1386.7 209.4L1386.9 211.7L1387.1 214L1387.3 215.4L1387.5 217.1L1387.7 218.6L1387.9 220.3L1388 223L1388.2 224.5L1388.3 227.1L1388.5 229.4L1388.6 231.2L1388.8 232.9L1388.9 235.9L1389 237.6L1389.2 239.5L1389.3 241.3L1389.5 244L1389.6 245.3L1389.8 246.5L1389.9 247.9L1390 248.6L1390.2 249.9L1390.3 250.4L1390.5 250.3L1390.7 250.8L1390.8 250.6L1391 249.1L1391.2 248.7L1391.3 247.5L1391.5 247.1L1391.7 245.8L1391.9 243.6L1392 241.7L1392.2 239.7L1392.4 238.7L1392.6 236.1L1392.7 234.1L1392.9 231.7L1393.1 229.5L1393.2 227L1393.4 224.6L1393.5 221.3L1393.7 219.2L1393.8 217.6L1393.8 216.6L1393.9 215.1L1393.9 213.7L1394 212.6L1394.1 211.3L1394.1 209.7L1394.2 208.7L1394.2 207.2L1394.3 205L1394.3 203.5L1394.4 202.2L1394.5 201.3L1394.5 199.9L1394.6 197.9L1394.6 195.4L1394.7 194.5L1394.7 192.6L1394.8 191L1394.8 189.5L1394.9 187.8L1394.9 185.8L1395 184.6L1395 182.3L1395.1 180.4L1395.1 179.2L1395.2 176.8L1395.2 175L1395.3 173.9L1395.3 171.4L1395.4 170.4L1395.4 168.7L1395.5 166.6L1395.5 164.6L1395.6 163.5L1395.6 162.1L1395.7 159.5L1395.8 158L1395.8 156.5L1395.9 154.9L1395.9 153.1L1396 151.2L1396 150.1L1396.1 149L1396.2 146.4L1396.2 144.7L1396.3 143.6L1396.4 142.1L1396.4 140.2L1396.5 137.6L1396.6 136.4L1396.7 135.1L1396.7 133.5L1396.8 131.4L1396.9 128.7L1396.9 127.6L1397 125.2L1397.1 123.8L1397.2 122.5L1397.2 120.6L1397.3 118L1397.4 116.2L1397.4 115.3L1397.5 112.8L1397.6 111.4L1397.7 109.6L1397.7 107.6L1397.8 106.4L1397.9 104.2L1398 102.5L1398 101.2L1398.1 99.3L1398.2 97.7L1398.3 96.8L1398.4 95.8L1398.4 94.6L1398.5 92.4L1398.6 91.2L1398.7 89.7L1398.8 88.8L1398.8 87.5L1398.9 86.9L1399 85.2L1399.2 81.7L1399.5 79.5L1399.7 76.5L1400 74.6L1400.2 72.5L1400.5 71.1L1400.7 69.1L1401 67.5L1401.2 65.7L1401.5 64.8L1401.7 63.4L1402 63.1L1402.2 62.3L1402.5 61.2L1403.1 60.3L1403.7 60.5L1404.2 62L1404.8 63.4L1405.4 67L1406 71.3L1406.1 71.7L1406.2 73.3L1406.3 73.8L1406.5 74.9L1406.6 76.7L1406.7 77.7L1406.8 79.8L1406.9 80.9L1407 82.1L1407.2 84.1L1407.3 84.9L1407.4 87.1L1407.5 88L1407.6 89.6L1407.8 92.3L1407.9 94L1408 95.2L1408.1 96.7L1408.2 99.5L1408.3 101.3L1408.5 103.3L1408.6 104.4L1408.7 106.7L1408.8 108.4L1408.9 110.1L1409 112.1L1409.2 114.5L1409.3 116.2L1409.4 118.2L1409.5 119.9L1409.6 122L1409.7 123.4L1409.7 125.1L1409.8 126.1L1409.9 128L1410 129.2L1410.1 130.7L1410.1 132.2L1410.2 134L1410.3 135.2L1410.4 136.3L1410.5 137.7L1410.5 139.5L1410.6 141L1410.7 143.6L1410.8 145.1L1410.8 147.1L1410.9 147.9L1411 149.9L1411.1 152.2L1411.2 153.7L1411.2 155.2L1411.3 156.8L1411.4 158L1411.5 159.7L1411.6 161.4L1411.6 163.3L1411.7 165.1L1411.8 167.4L1411.9 168.4L1412 170L1412 171.6L1412.1 173.1L1412.2 174.9L1412.3 176.5L1412.4 178.4L1412.4 179.5L1412.5 182.1L1412.6 183.2L1412.7 185.4L1412.8 186.8L1412.8 188.2L1412.9 189.4L1413 191.4L1413.1 192.3L1413.2 194.5L1413.3 196L1413.4 198.2L1413.5 200.2L1413.6 201.3L1413.7 202.9L1413.8 204.5L1413.9 206.4L1414 208L1414.1 210.2L1414.2 212.7L1414.3 213.9L1414.4 215.4L1414.5 217.3L1414.5 218.8L1414.6 221L1414.7 222.7L1414.8 223.7L1414.9 225.3L1415 227.4L1415.1 229.4L1415.2 230.8L1415.3 232L1415.5 234.1L1415.6 234.5L1415.7 235.7L1415.8 238L1415.9 239.2L1416 240.1L1416.1 241.9L1416.2 243.9L1416.4 244.8L1416.5 245.7L1416.6 246.5L1416.9 248.8L1417.1 252.1L1417.4 254.1L1417.7 256.7L1418 257.7L1418.2 259.6L1418.5 261.1L1418.8 263.2L1419.1 264.5L1419.4 266.1L1419.8 267.8L1420.1 269.1L1420.4 270.1L1420.7 271.2L1421.1 273.5L1421.4 274L1421.8 275.2L1423.1 277.8L1424.6 279.4L1426.1 279.6L1427.6 280.3L1428.9 281L1430.2 283.6L1431.4 286.8L1432.5 288.3L1433.5 288.1L1433.8 286.7L1434.2 285.2L1434.5 284.5L1434.8 283.2L1435.1 281.7L1435.4 279.8L1435.7 278.2L1436 276.5L1436.3 274.8L1436.6 272.2L1436.9 270.3L1437.2 269L1437.5 266.7L1437.8 264.7L1438.1 263L1438.4 260.9L1438.6 259.8L1438.9 258.2L1439.2 255.8L1439.4 253.5L1439.7 251.5L1440 250L1440.2 248.2L1440.5 247.1L1440.7 246.1L1441 244.7L1442.1 241.2L1443.1 240.6L1444.1 240L1444.9 240.6L1445.8 241.8L1446.7 243.9L1447.5 246.8L1447.7 248.2L1447.9 249.4L1448.1 251.2L1448.4 252.4L1448.6 254.3L1448.8 255.6L1449 257.3L1449.2 258.8L1449.4 260.2L1449.6 262.4L1449.8 264.2L1450 266.4L1450.3 268.2L1450.5 270.1L1450.7 271.5L1450.9 273.5L1451 274.6L1451.2 275.7L1451.3 277L1451.5 278.8L1451.7 280.6L1451.8 282.9L1452 284.3L1452.1 285.7L1452.3 288.2L1452.5 290L1452.6 291.1L1452.8 292.7L1453 294.5L1453.1 296.6L1453.3 299L1453.5 301.1L1453.6 302.4L1453.8 303.5L1454 305.1L1454.1 306.6L1454.3 308L1454.5 309.6L1454.7 312.1L1455 314.5L1455.2 316.4L1455.4 317.5L1455.6 319.6L1455.8 321L1456.1 323.3L1456.3 324.8L1456.5 327L1456.8 328.6L1457 329.3L1457.2 330.7L1457.5 332.8L1457.7 333.8L1458 334.9L1458.5 337.2L1459.1 339.6L1459.7 341.7L1460.3 342.8L1460.9 344.5L1461.6 345.4L1462.2 345.8L1462.9 347.5L1464.3 348.8L1465.7 349.2L1467.2 350.9L1469 350.4L1470.4 351.1L1471.9 351.1L1473.5 351.6L1475.1 351L1476.9 350.6L1478.7 350.5L1480.3 350.4L1482 350.9L1483.8 350.8L1485.5 351.2L1487.3 350.7L1489.1 350.7L1490.9 350.5L1492.6 351.3L1494.4 351.3L1496.1 351.3L1497.8 350.9L1499.5 350.3L1501.3 349.6L1503 350L1504.5 349.4L1506.1 348.2L1507.7 347.7L1509.2 347L1510.8 347L1512.3 346.8L1513.8 345.3L1515.2 345.1L1516.7 343.7L1518.1 343L1519.5 342.2L1520.8 340.9L1522.2 340L1523.6 338.4L1525 336.9L1526.5 336.4L1528 335.7L1529.6 334.4L1531.2 333.7L1532.7 333L1534.3 332.1L1535.9 332.2L1537.5 332.4L1539.1 333L1540.7 333.9L1542.3 334.3L1543.8 335.7L1545.4 336.3L1546.9 337L1548.6 337.3L1550.3 337.7L1551.9 338L1553.5 338.7L1555.1 338.5L1556.6 338.8L1558.3 338.7L1560 337.9L1561.6 336.8L1563.3 335.9L1565.1 335.6L1566.5 336.1L1568 336.8L1569.6 337.6L1571.2 338.2L1572.8 338.3L1574.4 339.6L1576.1 339.8L1577.6 340.9L1579.1 341L1580.6 342.5L1582.1 343.6L1583.7 345L1585.2 346L1586.8 346.7L1588.3 347.8L1589.8 348.6L1591.3 349.4L1592.8 349.8L1594.3 351.1L1595.9 352.6L1597.4 352.8L1598.9 354.3L1600.4 354.7L1602.1 355.1L1603.9 355.1L1605.6 355.8L1607.4 356L1609.1 356.9L1610.9 357.7L1612.6 358.2L1614.2 358.2L1615.7 358.1L1617.2 357.9L1618.7 358.8L1620.4 359L1622.4 359.5L1624.8 359.3L1626.1 360L1627.4 359.4L1628.9 359.4L1630.4 359.4L1632 359.9L1633.6 360.5L1635.3 359.8L1637.1 360.2L1638.8 360.6L1640.5 360L1642.3 359.7L1644 360.3L1645.8 360.9L1647.5 361.1L1649.1 361.1L1650.7 360.7L1652.2 360.6L1653.6 360.8L1655 361.3L1656.3 360.7L1657.7 360.6L1659.1 360.9L1660.5 361.5L1662 360.8L1663.6 360.4L1665.2 360.4L1667.1 361L1669 361.3L1671.2 360.9L1673.5 360.8L1674.7 361.3L1676 361.6L1677.4 361.7L1678.7 361.9L1680.2 361.1L1681.6 361.4L1683.1 362L1684.7 362.4L1686.2 361.7L1687.8 362.3L1689.4 362.2L1691.1 362.6L1692.7 361.9L1694.4 362.3L1696.1 362.6L1697.8 362.3L1699.6 361.8L1701.3 361.8L1703 361.8L1704.8 361.8L1706.6 361.9L1708.3 362.5L1710.1 362.1L1711.8 362.9L1713.6 363.1L1715.3 363.3L1717.1 363.4L1718.8 363.3L1720.5 363.6L1722.2 363.8L1723.8 363.4L1725.5 363.8L1727.2 362.8L1728.9 362.6L1730.7 362.5L1732.5 362.6L1734.4 362.9L1736.2 363.1L1738.1 363.5L1740 363.7L1741.9 363L1743.8 363.2L1745.8 363.4L1747.6 363.3L1749.5 363L1751.4 363.5L1753.2 363.4L1755 363.7L1756.8 363.6L1758.6 364.2L1760.3 364.4L1761.9 363.3L1763.5 363.9L1765 364L1766.5 363.5L1767.9 363.2L1769.2 363.5L1770.4 363.5L1771.6 364L1772.7 364.4L1773.6 363.8L1774.5 363.8" fill="none" stroke="#2b2b2b" stroke-width="4.2" stroke-linejoin="round" stroke-linecap="round" /><text x="1281" y="403.6" font-family="'Liberation Sans', Arial, Helvetica, sans-serif" font-size="29.3" text-anchor="middle" font-weight="normal" font-style="normal" fill="#000" >0</text><text x="1390.7" y="403.6" font-family="'Liberation Sans', Arial, Helvetica, sans-serif" font-size="29.3" text-anchor="middle" font-weight="normal" font-style="normal" fill="#000" >2</text><text x="1500.4" y="403.6" font-family="'Liberation Sans', Arial, Helvetica, sans-serif" font-size="29.3" text-anchor="middle" font-weight="normal" font-style="normal" fill="#000" >4</text><text x="1610.1" y="403.6" font-family="'Liberation Sans', Arial, Helvetica, sans-serif" font-size="29.3" text-anchor="middle" font-weight="normal" font-style="normal" fill="#000" >6</text><text x="1719.8" y="403.6" font-family="'Liberation Sans', Arial, Helvetica, sans-serif" font-size="29.3" text-anchor="middle" font-weight="normal" font-style="normal" fill="#000" >8</text><text x="1507.5" y="444.6" font-family="'Liberation Sans', Arial, Helvetica, sans-serif" font-size="29.1" text-anchor="middle" font-weight="normal" font-style="normal" fill="#000" >Energy transfer (eV)</text><text x="1207.5" y="211" font-family="'Liberation Sans', Arial, Helvetica, sans-serif" font-size="29.1" text-anchor="middle" font-weight="normal" font-style="normal" fill="#000" transform="rotate(-90 1207.5 211)">Normalized intensity (a.u.)</text><text x="1314.5" y="163.5" font-family="'Liberation Sans', Arial, Helvetica, sans-serif" font-size="30.5" fill="#000">Cu <tspan font-style="italic">L</tspan><tspan font-size="21.3" dy="8" dx="-1.8">3</tspan></text><text x="1502" y="221.8" font-family="'Liberation Sans', Arial, Helvetica, sans-serif" font-size="30" fill="#0535f5">O <tspan font-style="italic">K</tspan> A</text><text x="1622.5" y="324.8" font-family="'Liberation Sans', Arial, Helvetica, sans-serif" font-size="30" fill="#ff0000">O <tspan font-style="italic">K</tspan> B</text><rect x="88.3" y="508.8" width="527.5" height="333" fill="none" stroke="#262626" stroke-width="1.7"/><line x1="92.8" y1="508.8" x2="92.8" y2="515.2" stroke="#262626" stroke-width="1.7" stroke-linecap="butt" /><line x1="92.8" y1="841.8" x2="92.8" y2="835.4" stroke="#262626" stroke-width="1.7" stroke-linecap="butt" /><line x1="109" y1="508.8" x2="109" y2="515.2" stroke="#262626" stroke-width="1.7" stroke-linecap="butt" /><line x1="109" y1="841.8" x2="109" y2="835.4" stroke="#262626" stroke-width="1.7" stroke-linecap="butt" /><line x1="125.2" y1="508.8" x2="125.2" y2="515.2" stroke="#262626" stroke-width="1.7" stroke-linecap="butt" /><line x1="125.2" y1="841.8" x2="125.2" y2="835.4" stroke="#262626" stroke-width="1.7" stroke-linecap="butt" /><line x1="141.4" y1="508.8" x2="141.4" y2="515.2" stroke="#262626" stroke-width="1.7" stroke-linecap="butt" /><line x1="141.4" y1="841.8" x2="141.4" y2="835.4" stroke="#262626" stroke-width="1.7" stroke-linecap="butt" /><line x1="173.8" y1="508.8" x2="173.8" y2="515.2" stroke="#262626" stroke-width="1.7" stroke-linecap="butt" /><line x1="173.8" y1="841.8" x2="173.8" y2="835.4" stroke="#262626" stroke-width="1.7" stroke-linecap="butt" /><line x1="190" y1="508.8" x2="190" y2="515.2" stroke="#262626" stroke-width="1.7" stroke-linecap="butt" /><line x1="190" y1="841.8" x2="190" y2="835.4" stroke="#262626" stroke-width="1.7" stroke-linecap="butt" /><line x1="206.2" y1="508.8" x2="206.2" y2="515.2" stroke="#262626" stroke-width="1.7" stroke-linecap="butt" /><line x1="206.2" y1="841.8" x2="206.2" y2="835.4" stroke="#262626" stroke-width="1.7" stroke-linecap="butt" /><line x1="222.3" y1="508.8" x2="222.3" y2="515.2" stroke="#262626" stroke-width="1.7" stroke-linecap="butt" /><line x1="222.3" y1="841.8" x2="222.3" y2="835.4" stroke="#262626" stroke-width="1.7" stroke-linecap="butt" /><line x1="238.5" y1="508.8" x2="238.5" y2="515.2" stroke="#262626" stroke-width="1.7" stroke-linecap="butt" /><line x1="238.5" y1="841.8" x2="238.5" y2="835.4" stroke="#262626" stroke-width="1.7" stroke-linecap="butt" /><line x1="254.7" y1="508.8" x2="254.7" y2="515.2" stroke="#262626" stroke-width="1.7" stroke-linecap="butt" /><line x1="254.7" y1="841.8" x2="254.7" y2="835.4" stroke="#262626" stroke-width="1.7" stroke-linecap="butt" /><line x1="270.9" y1="508.8" x2="270.9" y2="515.2" stroke="#262626" stroke-width="1.7" stroke-linecap="butt" /><line x1="270.9" y1="841.8" x2="270.9" y2="835.4" stroke="#262626" stroke-width="1.7" stroke-linecap="butt" /><line x1="303.3" y1="508.8" x2="303.3" y2="515.2" stroke="#262626" stroke-width="1.7" stroke-linecap="butt" /><line x1="303.3" y1="841.8" x2="303.3" y2="835.4" stroke="#262626" stroke-width="1.7" stroke-linecap="butt" /><line x1="319.5" y1="508.8" x2="319.5" y2="515.2" stroke="#262626" stroke-width="1.7" stroke-linecap="butt" /><line x1="319.5" y1="841.8" x2="319.5" y2="835.4" stroke="#262626" stroke-width="1.7" stroke-linecap="butt" /><line x1="335.7" y1="508.8" x2="335.7" y2="515.2" stroke="#262626" stroke-width="1.7" stroke-linecap="butt" /><line x1="335.7" y1="841.8" x2="335.7" y2="835.4" stroke="#262626" stroke-width="1.7" stroke-linecap="butt" /><line x1="351.9" y1="508.8" x2="351.9" y2="515.2" stroke="#262626" stroke-width="1.7" stroke-linecap="butt" /><line x1="351.9" y1="841.8" x2="351.9" y2="835.4" stroke="#262626" stroke-width="1.7" stroke-linecap="butt" /><line x1="368" y1="508.8" x2="368" y2="515.2" stroke="#262626" stroke-width="1.7" stroke-linecap="butt" /><line x1="368" y1="841.8" x2="368" y2="835.4" stroke="#262626" stroke-width="1.7" stroke-linecap="butt" /><line x1="384.2" y1="508.8" x2="384.2" y2="515.2" stroke="#262626" stroke-width="1.7" stroke-linecap="butt" /><line x1="384.2" y1="841.8" x2="384.2" y2="835.4" stroke="#262626" stroke-width="1.7" stroke-linecap="butt" /><line x1="400.4" y1="508.8" x2="400.4" y2="515.2" stroke="#262626" stroke-width="1.7" stroke-linecap="butt" /><line x1="400.4" y1="841.8" x2="400.4" y2="835.4" stroke="#262626" stroke-width="1.7" stroke-linecap="butt" /><line x1="432.8" y1="508.8" x2="432.8" y2="515.2" stroke="#262626" stroke-width="1.7" stroke-linecap="butt" /><line x1="432.8" y1="841.8" x2="432.8" y2="835.4" stroke="#262626" stroke-width="1.7" stroke-linecap="butt" /><line x1="449" y1="508.8" x2="449" y2="515.2" stroke="#262626" stroke-width="1.7" stroke-linecap="butt" /><line x1="449" y1="841.8" x2="449" y2="835.4" stroke="#262626" stroke-width="1.7" stroke-linecap="butt" /><line x1="465.2" y1="508.8" x2="465.2" y2="515.2" stroke="#262626" stroke-width="1.7" stroke-linecap="butt" /><line x1="465.2" y1="841.8" x2="465.2" y2="835.4" stroke="#262626" stroke-width="1.7" stroke-linecap="butt" /><line x1="481.4" y1="508.8" x2="481.4" y2="515.2" stroke="#262626" stroke-width="1.7" stroke-linecap="butt" /><line x1="481.4" y1="841.8" x2="481.4" y2="835.4" stroke="#262626" stroke-width="1.7" stroke-linecap="butt" /><line x1="497.5" y1="508.8" x2="497.5" y2="515.2" stroke="#262626" stroke-width="1.7" stroke-linecap="butt" /><line x1="497.5" y1="841.8" x2="497.5" y2="835.4" stroke="#262626" stroke-width="1.7" stroke-linecap="butt" /><line x1="513.7" y1="508.8" x2="513.7" y2="515.2" stroke="#262626" stroke-width="1.7" stroke-linecap="butt" /><line x1="513.7" y1="841.8" x2="513.7" y2="835.4" stroke="#262626" stroke-width="1.7" stroke-linecap="butt" /><line x1="529.9" y1="508.8" x2="529.9" y2="515.2" stroke="#262626" stroke-width="1.7" stroke-linecap="butt" /><line x1="529.9" y1="841.8" x2="529.9" y2="835.4" stroke="#262626" stroke-width="1.7" stroke-linecap="butt" /><line x1="562.3" y1="508.8" x2="562.3" y2="515.2" stroke="#262626" stroke-width="1.7" stroke-linecap="butt" /><line x1="562.3" y1="841.8" x2="562.3" y2="835.4" stroke="#262626" stroke-width="1.7" stroke-linecap="butt" /><line x1="578.5" y1="508.8" x2="578.5" y2="515.2" stroke="#262626" stroke-width="1.7" stroke-linecap="butt" /><line x1="578.5" y1="841.8" x2="578.5" y2="835.4" stroke="#262626" stroke-width="1.7" stroke-linecap="butt" /><line x1="594.7" y1="508.8" x2="594.7" y2="515.2" stroke="#262626" stroke-width="1.7" stroke-linecap="butt" /><line x1="594.7" y1="841.8" x2="594.7" y2="835.4" stroke="#262626" stroke-width="1.7" stroke-linecap="butt" /><line x1="610.9" y1="508.8" x2="610.9" y2="515.2" stroke="#262626" stroke-width="1.7" stroke-linecap="butt" /><line x1="610.9" y1="841.8" x2="610.9" y2="835.4" stroke="#262626" stroke-width="1.7" stroke-linecap="butt" /><line x1="157.6" y1="508.8" x2="157.6" y2="520.9" stroke="#262626" stroke-width="1.7" stroke-linecap="butt" /><line x1="157.6" y1="841.8" x2="157.6" y2="829.7" stroke="#262626" stroke-width="1.7" stroke-linecap="butt" /><line x1="287.1" y1="508.8" x2="287.1" y2="520.9" stroke="#262626" stroke-width="1.7" stroke-linecap="butt" /><line x1="287.1" y1="841.8" x2="287.1" y2="829.7" stroke="#262626" stroke-width="1.7" stroke-linecap="butt" /><line x1="416.6" y1="508.8" x2="416.6" y2="520.9" stroke="#262626" stroke-width="1.7" stroke-linecap="butt" /><line x1="416.6" y1="841.8" x2="416.6" y2="829.7" stroke="#262626" stroke-width="1.7" stroke-linecap="butt" /><line x1="546.1" y1="508.8" x2="546.1" y2="520.9" stroke="#262626" stroke-width="1.7" stroke-linecap="butt" /><line x1="546.1" y1="841.8" x2="546.1" y2="829.7" stroke="#262626" stroke-width="1.7" stroke-linecap="butt" /><line x1="157.6" y1="508.8" x2="157.6" y2="841.8" stroke="#222" stroke-width="1.5" stroke-linecap="butt" /><path d="M93.4 697.7L95.2 697.6L97.7 697.8L100.6 698.6L103.8 697.9L106.9 697.8L109.7 697.9L112.8 697.2L116 697.8L119 698.2L121.8 698.6L124.2 697.1L127.2 696.2L129.5 694.4L131.5 693.3L132.7 691.8L133.8 688.7L134.8 688L135.8 685.5L136.9 681L137.3 679L137.7 676.1L138.2 673.4L138.6 672L139 669L139.4 666.6L139.9 664.1L140.3 661.1L140.7 659.1L141.1 656.4L141.6 654.3L142 651L142.4 648L142.7 645.5L143 643.4L143.3 640.7L143.6 637.7L143.9 636.4L144.2 634.2L144.5 631.3L144.8 628.3L145.1 624.7L145.4 621.5L145.7 618.7L146 615.5L146.3 614L146.6 611L146.9 609L147.2 605.7L147.5 604L147.8 601.5L148.1 597.2L148.4 594.4L148.8 592.9L149.1 589.6L149.4 587.6L149.8 583.9L150.1 580.1L150.4 578.1L150.8 575.9L151.1 572.4L151.4 569.2L151.7 567L152 565.9L152.3 563.7L152.6 560.3L152.9 558.2L153.2 556.1L154.1 551.1L154.8 549.1L155.5 546L156.2 544.9L156.9 543.5L160.5 543L161.3 545.5L162.1 546.9L162.9 550.4L163.8 552.8L164.8 556.7L165.4 558.7L166 561.2L166.6 565.3L167.3 568.2L168 570.1L168.6 573.8L169.3 575.5L170 578.1L170.6 581.3L171.5 584.4L172.5 586.4L173.4 590.6L174.4 592L175.3 593.6L176.1 595.6L177.6 594.2L179 590.7L180.4 586.9L181.9 584L183.4 582.1L185.1 580.1L188.2 581.6L191.3 584.1L193.1 585.8L194.8 588.9L196.7 591.8L197.5 593.7L198.4 596.4L199.3 597.6L200.2 599.7L201.2 603.8L202.1 606.8L203.1 608.5L204 610.8L204.8 614.3L205.6 617.7L206.5 619.3L207.3 623.3L208.1 626.3L208.9 628.6L209.7 630.7L210.5 632.2L211.2 633.9L212.7 638.8L213.9 639.9L215.2 642.2L216.7 643.7L218 647L219.4 649.5L220.8 651.6L222.3 653.8L223.9 657L226.1 658.3L228.5 660.2L230.8 662.5L233 664.7L235.5 665.8L237.9 666.1L240.2 668.4L242.5 669.5L244.8 671.3L247.5 673L250 673.3L252.7 671.8L255.6 670.9L258.4 670.8L261.1 671.6L263.8 671.8L266.5 672.8L269.2 674.4L272 674.9L274.9 674.1L277.6 673.5L280.1 672.7L282.6 670.8L284.8 669.1L287.3 668.2L289.7 670.2L292.3 671L295.1 672.3L298.2 670.7L300.4 670.9L302.8 670L305.2 669.5L307.7 667.8L310.2 668.1L312.7 666L315.6 666.2L318.5 666.7L321.4 667.3L324.3 667.3L327.2 667.2L330 667.2L332.8 667.2L335.7 665.9L338.6 666.2L341.7 666.8L344.1 667.2L346.6 666.7L349.3 667.6L351.9 668.4L354.6 668.5L357.1 669.1L359.5 669.3L362.1 670.4L364.7 671.7L367.2 671.9L369.6 673.7L371.8 675.5L374 675.9L376.9 675.1L379.5 673L382 672.1L384.9 671.5L387.1 671.7L389.3 673.4L391.6 673.4L394.1 675.6L396.6 675.7L399.3 677.3L401.7 677.8L404.2 677.5L406.8 678.3L409.5 678.2L412.2 678.4L414.9 679.2L417.5 678.3L420.1 677.9L422.7 678.7L425.3 680.1L427.8 680L430.4 680.3L433 682.2L435.6 682.6L438.2 682.5L440.8 683.5L443.4 682.9L445.9 683.5L448.5 682.9L451.1 683.4L453.7 684.4L456.3 685.1L458.9 685.3L461.5 684.6L464 684.9L466.6 684.6L469.2 684.4L471.8 685.5L474.4 686.9L477 688.1L479.6 688.9L482.1 690.3L484.7 689.9L487.3 690.1L489.9 690.9L492.5 690.8L495.1 690.4L497.7 690.4L500.2 690.5L502.8 689.9L505.4 689.2L508 689.9L510.5 690.3L513 689.5L515.4 688.5L517.9 688.2L520.5 689.8L523.2 688.6L526.2 689.5L528.5 689.4L531 688.6L533.6 689.1L536.3 687.6L539.1 687.1L541.8 687.4L544.5 686.5L547 687.8L549.4 687L551.5 686.7L554.5 687L557 689L559.2 690.2L561.3 691.8L563.5 692.9L566 693.7L568.4 694L571 693.1L573.7 691.4L576.4 690.8L579.1 689.5L581.7 688.5L584.1 688.9L587.2 689.6L590.2 689.1L593.1 689.6L595.8 690.3L598.6 691.4L601.6 691.7L604.7 692.3L607.7 693L610.2 692.7L612 693" fill="none" stroke="#ff0000" stroke-width="4.2" stroke-linejoin="round" stroke-linecap="round" /><path d="M93.4 743.8L95.2 743.4L97.6 743.3L100.5 742.8L103.7 741.4L106.8 740.5L109.7 740.7L112.6 740.7L115.6 741.7L118.6 742.1L121.4 742.2L124 742.3L126.1 742.3L129.5 740.6L131.5 738L132.4 736.1L133.3 735.4L134.2 732.3L135.1 730.7L136 726.8L136.9 723.9L137.3 721.6L137.7 719.5L138.2 717.9L138.6 714.3L139 711.5L139.4 710.2L139.9 707.2L140.3 703.7L140.7 702.2L141.1 699.8L141.6 695.8L142 693.4L142.4 690.5L142.9 687.9L143.4 685.7L143.9 682.4L144.4 680.4L144.9 676.9L145.4 674.2L145.8 672.6L146.3 669.7L146.8 667L147.3 664.8L147.8 662.2L148.3 659.2L148.9 655.8L149.4 653.9L150 651.8L150.5 649.3L151.1 646.2L151.6 643.1L152.2 640.6L152.7 639L153.2 637.3L154.9 631.8L156.5 629L158 628.1L159.4 628.7L160.8 631.2L162.3 635.1L162.7 635.9L163.2 639L163.7 640.9L164.2 643.3L164.7 645.4L165.2 648.3L165.7 651L166.2 654.5L166.7 656.3L167.2 659.5L167.7 661.6L168.2 665L168.7 666.8L169.2 669.7L169.7 672.7L170.2 676.1L170.7 678.1L171.2 681.2L171.7 683.6L172.2 686.1L172.7 688.8L173.2 691.9L174.1 694.9L174.9 698.7L175.8 700.3L176.7 703.7L177.6 705.3L178.6 707L180.2 710.5L181.9 713.2L183.8 713.8L185.9 716L187.5 718.7L189.1 720.1L190.9 721.8L192.7 723.2L194.6 724.9L196.7 727.4L198.9 729.5L201.3 730.8L203.7 731L206.2 730.7L208.7 731.7L211.2 733.2L214.1 734.4L217 735L219.9 735L222.8 735.9L225.7 736.4L228.6 737.2L231.5 737.1L234.4 738.4L237.3 738.9L240.2 738L243.1 738.1L246.1 739.3L249 738.7L251.9 739.7L254.7 739.3L257.6 739.5L260.6 739.6L263.4 738.7L266 738.3L268.1 737.7L270.7 736.4L272.8 733.3L274.3 730.5L276.1 729.3L278 726.5L280 723.7L281.9 721.8L283.8 720.7L285.6 718.4L287.5 716.5L289.3 715.3L291 714L293.4 711.7L295.6 709.5L298.2 708.8L300.7 709.4L303.4 710L306.3 710.5L309.1 711L311.7 712L314.3 713.8L317 715.1L320 715.8L322.2 718.1L324.6 720.3L327 722L329.5 723.8L332 725.4L334.5 726L337.5 727.3L340.5 727.4L343.5 727.3L346.4 728.1L349 728.8L351.6 731.1L353.8 732.4L356.2 733.6L359.5 734.9L361.6 734.6L363.8 735.6L366.2 736.5L368.7 736.7L371.5 736.7L374.5 737.3L377.7 737.6L381.2 738.5L383.3 737.9L385.6 737.7L388 738.1L390.5 738.9L393.1 739.2L395.7 739.2L398.4 739.7L401.2 738.9L403.9 738.1L406.7 738.6L409.5 738.7L412.2 738.3L414.9 739.1L417.5 738.8L420.1 738.6L422.7 738.7L425.3 739.8L427.9 738.6L430.4 738.9L433 739L435.6 738.9L438.2 739.3L440.8 739.1L443.4 740.3L445.9 740L448.5 740.3L451.1 739.5L453.7 739.8L456.3 740.2L458.9 740.7L461.5 739.8L464 739.9L466.6 740.6L469.2 740.8L471.8 739.8L474.4 740L477 740.5L479.5 740L482.1 740.3L484.7 740.4L487.3 740.9L489.9 740.4L492.5 740.4L495.1 739.9L497.7 740.4L500.3 739.8L502.9 739.9L505.5 739.7L508 739.6L510.6 739.3L513.2 739.3L515.8 739.9L518.4 739.5L521 739.1L523.6 740.2L526.2 739.7L528.8 740.6L531.3 740.4L533.7 739.9L536.2 740.6L538.6 740.9L541 740L543.5 739.4L546 740.1L548.5 740.6L551.1 740.4L553.8 740.6L556.5 740.1L559.4 740.2L562.4 739.7L564.8 739.7L567.3 739.7L570 739.6L572.8 739.6L575.8 740.3L578.8 739.4L581.8 739.1L584.9 739.1L587.9 740.3L591 739.8L593.9 738.9L596.8 739.9L599.5 740.2L602.1 740.2L604.6 739.4L606.8 739.8L608.8 739.1L610.5 738.6L612 739.3" fill="none" stroke="#00ffff" stroke-width="4.2" stroke-linejoin="round" stroke-linecap="round" /><path d="M93.4 813.7C96.1 813.6 103.4 813.6 109.7 813C116 812.4 125.5 811.2 131.5 810.1C137.6 809 140.3 807.7 146 806.5C151.7 805.3 159.9 802.9 165.9 802.9C171.9 802.9 174.6 805.3 182.2 806.5C189.8 807.7 202.7 809.9 211.2 810.1C219.7 810.3 228.2 808.4 233 807.9C237.8 807.4 237.2 808.4 240 807.4C242.8 806.4 246.4 804.8 249.7 802C252.9 799.2 257.1 794 259.5 790.4C261.9 786.8 262.3 784.2 263.9 780.6C265.5 777 267 773.7 269.2 769C271.4 764.3 274.6 756.5 277 752.4C279.4 748.3 281.4 746.5 283.8 744.6C286.2 742.7 289.2 740.9 291.6 740.9C294 740.9 296 742.9 298.4 744.6C300.8 746.4 302.9 747 306.2 751.4C309.4 755.8 314.6 766 317.9 770.9C321.1 775.8 322.4 777 325.7 780.6C328.9 784.2 334.1 789 337.4 792.3C340.6 795.5 342 797.7 345.2 800.1C348.4 802.5 353.2 805.4 356.8 806.9C360.4 808.4 362.9 808.4 367 809C371.1 809.6 372.8 810.3 381.2 810.7C389.6 811.1 405.4 811.3 417.5 811.4C429.6 811.5 441.6 811.6 453.7 811.4C465.8 811.2 477.8 810 489.9 810C502 810 514.1 811.3 526.2 811.4C538.3 811.5 550.3 811.1 562.4 810.7C574.5 810.3 590.3 809 598.6 808.9C606.9 808.8 609.8 809.8 612 810" fill="none" stroke="#2b2b2b" stroke-width="4.4" stroke-linejoin="round" stroke-linecap="round" /><text x="157.6" y="876" font-family="'Liberation Sans', Arial, Helvetica, sans-serif" font-size="29.3" text-anchor="middle" font-weight="normal" font-style="normal" fill="#000" >0.0</text><text x="287.1" y="876" font-family="'Liberation Sans', Arial, Helvetica, sans-serif" font-size="29.3" text-anchor="middle" font-weight="normal" font-style="normal" fill="#000" >0.4</text><text x="416.6" y="876" font-family="'Liberation Sans', Arial, Helvetica, sans-serif" font-size="29.3" text-anchor="middle" font-weight="normal" font-style="normal" fill="#000" >0.8</text><text x="546.1" y="876" font-family="'Liberation Sans', Arial, Helvetica, sans-serif" font-size="29.3" text-anchor="middle" font-weight="normal" font-style="normal" fill="#000" >1.2</text><text x="350" y="917.2" font-family="'Liberation Sans', Arial, Helvetica, sans-serif" font-size="29.3" text-anchor="middle" font-weight="normal" font-style="normal" fill="#000" >Energy transfer (eV)</text><text x="63" y="678.8" font-family="'Liberation Sans', Arial, Helvetica, sans-serif" font-size="29.3" text-anchor="middle" font-weight="normal" font-style="normal" fill="#000" transform="rotate(-90 63 678.8)">Normalized intensity (a.u.)</text><text x="343" y="566.9" font-family="'Liberation Sans', Arial, Helvetica, sans-serif" font-size="26.5" fill="#000">O<tspan font-style="italic">K</tspan><tspan dx="4">B:</tspan></text><line x1="339.2" y1="588.1" x2="396.7" y2="588.1" stroke="#ff0000" stroke-width="4.4" stroke-linecap="butt" /><line x1="339.2" y1="622.5" x2="396.7" y2="622.5" stroke="#00ffff" stroke-width="4.4" stroke-linecap="butt" /><text x="404.5" y="598.8" font-family="'Liberation Sans', Arial, Helvetica, sans-serif" font-size="26.5" text-anchor="start" font-weight="normal" font-style="normal" fill="#000" >70°</text><text x="404.5" y="628.8" font-family="'Liberation Sans', Arial, Helvetica, sans-serif" font-size="26.5" text-anchor="start" font-weight="normal" font-style="normal" fill="#000" >10°</text><text x="169" y="789.6" font-family="'Liberation Sans', Arial, Helvetica, sans-serif" font-size="30.2" fill="#000">Cu <tspan font-style="italic">L</tspan><tspan font-size="21" dy="8">3</tspan></text><text x="352.3" y="790.8" font-family="'Liberation Sans', Arial, Helvetica, sans-serif" font-size="27.6" text-anchor="start" font-weight="normal" font-style="normal" fill="#000" >x 0.1</text><polygon points="81,150 163.5,123 192.8,183.5 110.3,210.5" fill="#eff0f6" stroke="#a9a9ad" stroke-width="1.3" stroke-linejoin="round"/><polygon points="193.5,184 276,157 305.3,217.5 222.8,244.5" fill="#eff0f6" stroke="#a9a9ad" stroke-width="1.3" stroke-linejoin="round"/><polygon points="306,218 388.5,191 417.8,251.5 335.3,278.5" fill="#eff0f6" stroke="#a9a9ad" stroke-width="1.3" stroke-linejoin="round"/><line x1="173" y1="148.3" x2="90.1" y2="178.1" stroke="#000" stroke-width="2.6" stroke-linecap="butt" /><polygon points="76.9,182.8 97.6,184.1 92,168.7" fill="#000"/><line x1="212.5" y1="212.7" x2="300.4" y2="181.1" stroke="#000" stroke-width="2.6" stroke-linecap="butt" /><polygon points="313.6,176.4 292.9,175.1 298.5,190.5" fill="#000"/><line x1="400" y1="220.7" x2="313.3" y2="250.3" stroke="#000" stroke-width="2.6" stroke-linecap="butt" /><polygon points="300,254.8 320.6,256.4 315.3,240.9" fill="#000"/><linearGradient id="lg1" gradientUnits="userSpaceOnUse" x1="102.2" y1="0" x2="141.6" y2="0"><stop offset="0" stop-color="#3c32ee"/><stop offset="0.28" stop-color="#6438d8"/><stop offset="0.55" stop-color="#9c52d2"/><stop offset="0.78" stop-color="#e2b2ea"/><stop offset="1" stop-color="#f4d6ee"/></linearGradient><linearGradient id="lv1" gradientUnits="userSpaceOnUse" x1="0" y1="140.3" x2="0" y2="174.9"><stop offset="0" stop-color="#bfeaff" stop-opacity="0.55"/><stop offset="0.22" stop-color="#ffffff" stop-opacity="0"/><stop offset="0.62" stop-color="#b8205a" stop-opacity="0"/><stop offset="1" stop-color="#b8205a" stop-opacity="0.8"/></linearGradient><path d="M137 162.8C132.5 171.9 124.2 171.7 114.8 168.5C106.1 165.5 103.4 159 105.8 152.1C108.2 145.2 114.3 141.7 123 144.7C132.4 147.9 139.1 152.9 137 162.8Z" fill="url(#lg1)"/><path d="M137 162.8C132.5 171.9 124.2 171.7 114.8 168.5C106.1 165.5 103.4 159 105.8 152.1C108.2 145.2 114.3 141.7 123 144.7C132.4 147.9 139.1 152.9 137 162.8Z" fill="url(#lv1)"/><linearGradient id="lg2" gradientUnits="userSpaceOnUse" x1="131.5" y1="0" x2="162.8" y2="0"><stop offset="0" stop-color="#3a3af0"/><stop offset="0.25" stop-color="#7a5ce6"/><stop offset="0.55" stop-color="#d2b0ee"/><stop offset="0.78" stop-color="#f7e2f0"/><stop offset="1" stop-color="#f3b894"/></linearGradient><linearGradient id="lv2" gradientUnits="userSpaceOnUse" x1="0" y1="137" x2="0" y2="170.5"><stop offset="0" stop-color="#bfeaff" stop-opacity="0.55"/><stop offset="0.22" stop-color="#ffffff" stop-opacity="0"/><stop offset="0.62" stop-color="#b8205a" stop-opacity="0"/><stop offset="1" stop-color="#b8205a" stop-opacity="0.8"/></linearGradient><path d="M140.3 164.8C134.1 159.6 135.8 153.1 140.1 146.2C144.1 139.8 149.7 138.8 154.6 141.9C159.5 145 161.1 150.4 157 156.8C152.8 163.7 147.6 168.1 140.3 164.8Z" fill="url(#lg2)"/><path d="M140.3 164.8C134.1 159.6 135.8 153.1 140.1 146.2C144.1 139.8 149.7 138.8 154.6 141.9C159.5 145 161.1 150.4 157 156.8C152.8 163.7 147.6 168.1 140.3 164.8Z" fill="url(#lv2)"/><linearGradient id="lg3" gradientUnits="userSpaceOnUse" x1="107.8" y1="0" x2="148.4" y2="0"><stop offset="0" stop-color="#3a3af0"/><stop offset="0.25" stop-color="#7a5ce6"/><stop offset="0.55" stop-color="#d2b0ee"/><stop offset="0.78" stop-color="#f7e2f0"/><stop offset="1" stop-color="#f3b894"/></linearGradient><linearGradient id="lv3" gradientUnits="userSpaceOnUse" x1="0" y1="156.2" x2="0" y2="199.9"><stop offset="0" stop-color="#bfeaff" stop-opacity="0.55"/><stop offset="0.22" stop-color="#ffffff" stop-opacity="0"/><stop offset="0.62" stop-color="#b8205a" stop-opacity="0"/><stop offset="1" stop-color="#b8205a" stop-opacity="0.8"/></linearGradient><path d="M137.2 163.4C145.2 170.1 142.8 178.6 137.2 187.7C131.9 196.1 124.7 197.5 118.4 193.5C112.1 189.6 110.2 182.5 115.5 174.1C121.1 165.1 127.8 159.2 137.2 163.4Z" fill="url(#lg3)"/><path d="M137.2 163.4C145.2 170.1 142.8 178.6 137.2 187.7C131.9 196.1 124.7 197.5 118.4 193.5C112.1 189.6 110.2 182.5 115.5 174.1C121.1 165.1 127.8 159.2 137.2 163.4Z" fill="url(#lv3)"/><linearGradient id="lg4" gradientUnits="userSpaceOnUse" x1="132.9" y1="0" x2="180.9" y2="0"><stop offset="0" stop-color="#3c32ee"/><stop offset="0.28" stop-color="#6438d8"/><stop offset="0.55" stop-color="#9c52d2"/><stop offset="0.78" stop-color="#e2b2ea"/><stop offset="1" stop-color="#f4d6ee"/></linearGradient><linearGradient id="lv4" gradientUnits="userSpaceOnUse" x1="0" y1="150.6" x2="0" y2="193.9"><stop offset="0" stop-color="#bfeaff" stop-opacity="0.55"/><stop offset="0.22" stop-color="#ffffff" stop-opacity="0"/><stop offset="0.62" stop-color="#b8205a" stop-opacity="0"/><stop offset="1" stop-color="#b8205a" stop-opacity="0.8"/></linearGradient><path d="M139.7 163.5C146.3 154.1 156 155.9 166.6 161.3C176.5 166.3 178.7 174.1 174.9 181.5C171.2 188.8 163.6 191.6 153.7 186.6C143.2 181.2 136 174.4 139.7 163.5Z" fill="url(#lg4)"/><path d="M139.7 163.5C146.3 154.1 156 155.9 166.6 161.3C176.5 166.3 178.7 174.1 174.9 181.5C171.2 188.8 163.6 191.6 153.7 186.6C143.2 181.2 136 174.4 139.7 163.5Z" fill="url(#lv4)"/><linearGradient id="lg5" gradientUnits="userSpaceOnUse" x1="214.7" y1="0" x2="254.1" y2="0"><stop offset="0" stop-color="#3c32ee"/><stop offset="0.28" stop-color="#6438d8"/><stop offset="0.55" stop-color="#9c52d2"/><stop offset="0.78" stop-color="#e2b2ea"/><stop offset="1" stop-color="#f4d6ee"/></linearGradient><linearGradient id="lv5" gradientUnits="userSpaceOnUse" x1="0" y1="174.3" x2="0" y2="208.9"><stop offset="0" stop-color="#bfeaff" stop-opacity="0.55"/><stop offset="0.22" stop-color="#ffffff" stop-opacity="0"/><stop offset="0.62" stop-color="#b8205a" stop-opacity="0"/><stop offset="1" stop-color="#b8205a" stop-opacity="0.8"/></linearGradient><path d="M249.5 196.8C245 205.9 236.7 205.7 227.3 202.5C218.6 199.5 215.9 193 218.3 186.1C220.7 179.2 226.8 175.7 235.5 178.7C244.9 181.9 251.6 186.9 249.5 196.8Z" fill="url(#lg5)"/><path d="M249.5 196.8C245 205.9 236.7 205.7 227.3 202.5C218.6 199.5 215.9 193 218.3 186.1C220.7 179.2 226.8 175.7 235.5 178.7C244.9 181.9 251.6 186.9 249.5 196.8Z" fill="url(#lv5)"/><linearGradient id="lg6" gradientUnits="userSpaceOnUse" x1="244" y1="0" x2="275.3" y2="0"><stop offset="0" stop-color="#3a3af0"/><stop offset="0.25" stop-color="#7a5ce6"/><stop offset="0.55" stop-color="#d2b0ee"/><stop offset="0.78" stop-color="#f7e2f0"/><stop offset="1" stop-color="#f3b894"/></linearGradient><linearGradient id="lv6" gradientUnits="userSpaceOnUse" x1="0" y1="171" x2="0" y2="204.5"><stop offset="0" stop-color="#bfeaff" stop-opacity="0.55"/><stop offset="0.22" stop-color="#ffffff" stop-opacity="0"/><stop offset="0.62" stop-color="#b8205a" stop-opacity="0"/><stop offset="1" stop-color="#b8205a" stop-opacity="0.8"/></linearGradient><path d="M252.8 198.8C246.6 193.6 248.3 187.1 252.6 180.2C256.6 173.8 262.2 172.8 267.1 175.9C272 179 273.6 184.4 269.5 190.8C265.3 197.7 260.1 202.1 252.8 198.8Z" fill="url(#lg6)"/><path d="M252.8 198.8C246.6 193.6 248.3 187.1 252.6 180.2C256.6 173.8 262.2 172.8 267.1 175.9C272 179 273.6 184.4 269.5 190.8C265.3 197.7 260.1 202.1 252.8 198.8Z" fill="url(#lv6)"/><linearGradient id="lg7" gradientUnits="userSpaceOnUse" x1="220.3" y1="0" x2="260.9" y2="0"><stop offset="0" stop-color="#3a3af0"/><stop offset="0.25" stop-color="#7a5ce6"/><stop offset="0.55" stop-color="#d2b0ee"/><stop offset="0.78" stop-color="#f7e2f0"/><stop offset="1" stop-color="#f3b894"/></linearGradient><linearGradient id="lv7" gradientUnits="userSpaceOnUse" x1="0" y1="190.2" x2="0" y2="233.9"><stop offset="0" stop-color="#bfeaff" stop-opacity="0.55"/><stop offset="0.22" stop-color="#ffffff" stop-opacity="0"/><stop offset="0.62" stop-color="#b8205a" stop-opacity="0"/><stop offset="1" stop-color="#b8205a" stop-opacity="0.8"/></linearGradient><path d="M249.7 197.4C257.7 204.1 255.3 212.6 249.7 221.7C244.4 230.1 237.2 231.5 230.9 227.5C224.6 223.6 222.7 216.5 228 208.1C233.6 199.1 240.3 193.2 249.7 197.4Z" fill="url(#lg7)"/><path d="M249.7 197.4C257.7 204.1 255.3 212.6 249.7 221.7C244.4 230.1 237.2 231.5 230.9 227.5C224.6 223.6 222.7 216.5 228 208.1C233.6 199.1 240.3 193.2 249.7 197.4Z" fill="url(#lv7)"/><linearGradient id="lg8" gradientUnits="userSpaceOnUse" x1="245.4" y1="0" x2="293.4" y2="0"><stop offset="0" stop-color="#3c32ee"/><stop offset="0.28" stop-color="#6438d8"/><stop offset="0.55" stop-color="#9c52d2"/><stop offset="0.78" stop-color="#e2b2ea"/><stop offset="1" stop-color="#f4d6ee"/></linearGradient><linearGradient id="lv8" gradientUnits="userSpaceOnUse" x1="0" y1="184.6" x2="0" y2="227.9"><stop offset="0" stop-color="#bfeaff" stop-opacity="0.55"/><stop offset="0.22" stop-color="#ffffff" stop-opacity="0"/><stop offset="0.62" stop-color="#b8205a" stop-opacity="0"/><stop offset="1" stop-color="#b8205a" stop-opacity="0.8"/></linearGradient><path d="M252.2 197.5C258.8 188.1 268.5 189.9 279.1 195.3C289 200.3 291.2 208.1 287.4 215.5C283.7 222.8 276.1 225.6 266.2 220.6C255.7 215.2 248.5 208.4 252.2 197.5Z" fill="url(#lg8)"/><path d="M252.2 197.5C258.8 188.1 268.5 189.9 279.1 195.3C289 200.3 291.2 208.1 287.4 215.5C283.7 222.8 276.1 225.6 266.2 220.6C255.7 215.2 248.5 208.4 252.2 197.5Z" fill="url(#lv8)"/><linearGradient id="lg9" gradientUnits="userSpaceOnUse" x1="327.2" y1="0" x2="366.6" y2="0"><stop offset="0" stop-color="#3c32ee"/><stop offset="0.28" stop-color="#6438d8"/><stop offset="0.55" stop-color="#9c52d2"/><stop offset="0.78" stop-color="#e2b2ea"/><stop offset="1" stop-color="#f4d6ee"/></linearGradient><linearGradient id="lv9" gradientUnits="userSpaceOnUse" x1="0" y1="208.3" x2="0" y2="242.9"><stop offset="0" stop-color="#bfeaff" stop-opacity="0.55"/><stop offset="0.22" stop-color="#ffffff" stop-opacity="0"/><stop offset="0.62" stop-color="#b8205a" stop-opacity="0"/><stop offset="1" stop-color="#b8205a" stop-opacity="0.8"/></linearGradient><path d="M362 230.8C357.5 239.9 349.2 239.7 339.8 236.5C331.1 233.5 328.4 227 330.8 220.1C333.2 213.2 339.3 209.7 348 212.7C357.4 215.9 364.1 220.9 362 230.8Z" fill="url(#lg9)"/><path d="M362 230.8C357.5 239.9 349.2 239.7 339.8 236.5C331.1 233.5 328.4 227 330.8 220.1C333.2 213.2 339.3 209.7 348 212.7C357.4 215.9 364.1 220.9 362 230.8Z" fill="url(#lv9)"/><linearGradient id="lg10" gradientUnits="userSpaceOnUse" x1="356.5" y1="0" x2="387.8" y2="0"><stop offset="0" stop-color="#3a3af0"/><stop offset="0.25" stop-color="#7a5ce6"/><stop offset="0.55" stop-color="#d2b0ee"/><stop offset="0.78" stop-color="#f7e2f0"/><stop offset="1" stop-color="#f3b894"/></linearGradient><linearGradient id="lv10" gradientUnits="userSpaceOnUse" x1="0" y1="205" x2="0" y2="238.5"><stop offset="0" stop-color="#bfeaff" stop-opacity="0.55"/><stop offset="0.22" stop-color="#ffffff" stop-opacity="0"/><stop offset="0.62" stop-color="#b8205a" stop-opacity="0"/><stop offset="1" stop-color="#b8205a" stop-opacity="0.8"/></linearGradient><path d="M365.3 232.8C359.1 227.6 360.8 221.1 365.1 214.2C369.1 207.8 374.7 206.8 379.6 209.9C384.5 213 386.1 218.4 382 224.8C377.8 231.7 372.6 236.1 365.3 232.8Z" fill="url(#lg10)"/><path d="M365.3 232.8C359.1 227.6 360.8 221.1 365.1 214.2C369.1 207.8 374.7 206.8 379.6 209.9C384.5 213 386.1 218.4 382 224.8C377.8 231.7 372.6 236.1 365.3 232.8Z" fill="url(#lv10)"/><linearGradient id="lg11" gradientUnits="userSpaceOnUse" x1="332.8" y1="0" x2="373.4" y2="0"><stop offset="0" stop-color="#3a3af0"/><stop offset="0.25" stop-color="#7a5ce6"/><stop offset="0.55" stop-color="#d2b0ee"/><stop offset="0.78" stop-color="#f7e2f0"/><stop offset="1" stop-color="#f3b894"/></linearGradient><linearGradient id="lv11" gradientUnits="userSpaceOnUse" x1="0" y1="224.2" x2="0" y2="267.9"><stop offset="0" stop-color="#bfeaff" stop-opacity="0.55"/><stop offset="0.22" stop-color="#ffffff" stop-opacity="0"/><stop offset="0.62" stop-color="#b8205a" stop-opacity="0"/><stop offset="1" stop-color="#b8205a" stop-opacity="0.8"/></linearGradient><path d="M362.2 231.4C370.2 238.1 367.8 246.6 362.2 255.7C356.9 264.1 349.7 265.5 343.4 261.5C337.1 257.6 335.2 250.5 340.5 242.1C346.1 233.1 352.8 227.2 362.2 231.4Z" fill="url(#lg11)"/><path d="M362.2 231.4C370.2 238.1 367.8 246.6 362.2 255.7C356.9 264.1 349.7 265.5 343.4 261.5C337.1 257.6 335.2 250.5 340.5 242.1C346.1 233.1 352.8 227.2 362.2 231.4Z" fill="url(#lv11)"/><linearGradient id="lg12" gradientUnits="userSpaceOnUse" x1="357.9" y1="0" x2="405.9" y2="0"><stop offset="0" stop-color="#3c32ee"/><stop offset="0.28" stop-color="#6438d8"/><stop offset="0.55" stop-color="#9c52d2"/><stop offset="0.78" stop-color="#e2b2ea"/><stop offset="1" stop-color="#f4d6ee"/></linearGradient><linearGradient id="lv12" gradientUnits="userSpaceOnUse" x1="0" y1="218.6" x2="0" y2="261.9"><stop offset="0" stop-color="#bfeaff" stop-opacity="0.55"/><stop offset="0.22" stop-color="#ffffff" stop-opacity="0"/><stop offset="0.62" stop-color="#b8205a" stop-opacity="0"/><stop offset="1" stop-color="#b8205a" stop-opacity="0.8"/></linearGradient><path d="M364.7 231.5C371.3 222.1 381 223.9 391.6 229.3C401.5 234.3 403.7 242.1 399.9 249.5C396.2 256.8 388.6 259.6 378.7 254.6C368.2 249.2 361 242.4 364.7 231.5Z" fill="url(#lg12)"/><path d="M364.7 231.5C371.3 222.1 381 223.9 391.6 229.3C401.5 234.3 403.7 242.1 399.9 249.5C396.2 256.8 388.6 259.6 378.7 254.6C368.2 249.2 361 242.4 364.7 231.5Z" fill="url(#lv12)"/><circle cx="81" cy="150" r="12.9" fill="url(#sph)"/><circle cx="163.5" cy="123" r="12.9" fill="url(#sph)"/><circle cx="110.3" cy="210.5" r="12.9" fill="url(#sph)"/><circle cx="193.5" cy="184" r="12.9" fill="url(#sph)"/><circle cx="276" cy="157" r="12.9" fill="url(#sph)"/><circle cx="222.8" cy="244.5" r="12.9" fill="url(#sph)"/><circle cx="306" cy="218" r="12.9" fill="url(#sph)"/><circle cx="388.5" cy="191" r="12.9" fill="url(#sph)"/><circle cx="335.3" cy="278.5" r="12.9" fill="url(#sph)"/><circle cx="417.8" cy="251.5" r="12.9" fill="url(#sph)"/><text x="277.5" y="134.5" font-family="'Liberation Sans', Arial, Helvetica, sans-serif" font-size="29.3" text-anchor="middle" font-weight="normal" font-style="normal" fill="#000" >A</text><text x="188.2" y="227.3" font-family="'Liberation Sans', Arial, Helvetica, sans-serif" font-size="29.3" text-anchor="middle" font-weight="normal" font-style="normal" fill="#000" >B</text><line x1="450" y1="256.4" x2="450" y2="137.5" stroke="#000" stroke-width="3.4" stroke-linecap="round" /><polyline points="439,158 450,137.5 461,158" fill="none" stroke="#000" stroke-width="3.4" stroke-linecap="round" stroke-linejoin="miter"/><line x1="450" y1="256.4" x2="499.5" y2="181.8" stroke="#000" stroke-width="3.4" stroke-linecap="round" /><polyline points="479.5,192.7 499.5,181.8 498.4,204.5" fill="none" stroke="#000" stroke-width="3.4" stroke-linecap="round" stroke-linejoin="miter"/><line x1="450" y1="256.4" x2="538.2" y2="281.8" stroke="#000" stroke-width="3.4" stroke-linecap="round" /><polyline points="522.3,265.9 538.2,281.8 515.5,287.5" fill="none" stroke="#000" stroke-width="3.4" stroke-linecap="round" stroke-linejoin="miter"/><text x="453.5" y="127.5" font-family="'Liberation Sans', Arial, Helvetica, sans-serif" font-size="27" text-anchor="middle" font-weight="normal" font-style="italic" fill="#000" >z</text><text x="512" y="171.5" font-family="'Liberation Sans', Arial, Helvetica, sans-serif" font-size="27" text-anchor="middle" font-weight="normal" font-style="italic" fill="#000" >y</text><text x="537" y="306.8" font-family="'Liberation Sans', Arial, Helvetica, sans-serif" font-size="27" text-anchor="middle" font-weight="normal" font-style="italic" fill="#000" >x</text><line x1="106.4" y1="290" x2="106.4" y2="308" stroke="#00adef" stroke-width="4.2" stroke-linecap="butt" /><polygon points="106.4,272.8 115.8,291.9 97,291.9" fill="#00adef"/><polygon points="106.4,324.8 115.8,306.1 97,306.1" fill="#00adef"/><line x1="95" y1="336.4" x2="116.5" y2="336.4" stroke="#00adef" stroke-width="4.2" stroke-linecap="butt" /><polygon points="77.5,336.4 96.6,327 96.6,345.8" fill="#00adef"/><polygon points="133.7,336.4 114.9,327 114.9,345.8" fill="#00adef"/><text x="81.2" y="307.2" font-family="'Liberation Serif', 'Times New Roman', serif" font-size="30" text-anchor="middle" font-weight="normal" font-style="italic" fill="#1638d0" >σ</text><text x="106.2" y="367" font-family="'Liberation Serif', 'Times New Roman', serif" font-size="30" text-anchor="middle" font-weight="normal" font-style="italic" fill="#1638d0" >π</text><text x="193" y="334.6" font-family="'Liberation Sans', Arial, Helvetica, sans-serif" font-size="28.5" fill="#1638d0"><tspan font-style="italic">k</tspan><tspan font-size="20" dy="7.7">in</tspan></text><path d="M130.4 315.9L130.5 314.7L130.6 313.5L130.8 312.3L130.9 311.1L131 309.9L131.2 308.8L131.4 307.8L131.6 306.8L131.9 305.9L132.1 305.2L132.4 304.5L132.8 304L133.2 303.6L133.6 303.3L134.1 303.1L134.6 303.1L135.2 303.1L135.7 303.4L136.4 303.7L137 304.1L137.7 304.7L138.5 305.3L139.2 306L140 306.8L140.8 307.6L141.6 308.5L142.4 309.4L143.3 310.3L144.1 311.2L144.9 312.2L145.7 313L146.5 313.8L147.3 314.6L148 315.3L148.8 315.9L149.4 316.4L150.1 316.8L150.7 317.1L151.3 317.3L151.8 317.3L152.4 317.3L152.8 317.1L153.2 316.7L153.6 316.3L153.9 315.7L154.2 315L154.5 314.2L154.7 313.3L155 312.3L155.1 311.3L155.3 310.2L155.4 309L155.6 307.8L155.7 306.6L155.8 305.3L156 304.1L156.1 302.9L156.2 301.7L156.4 300.6L156.6 299.6L156.8 298.6L157.1 297.8L157.3 297L157.7 296.3L158 295.8L158.4 295.4L158.8 295.1L159.3 294.9L159.8 294.9L160.4 295L160.9 295.2L161.6 295.5L162.2 295.9L162.9 296.5L163.7 297.1L164.4 297.8L165.2 298.6L166 299.4L166.8 300.3L167.6 301.2L168.5 302.1L169.3 303L170.1 303.9L170.9 304.8L171.7 305.6L172.5 306.4L173.2 307.1L174 307.7L174.6 308.2L175.3 308.6L175.9 308.9L176.5 309.1L177.1 309.1L177.6 309.1L178 308.9L178.4 308.5L178.8 308.1L179.2 307.5L179.5 306.8L179.7 306L180 305.1L180.2 304.2L180.3 303.1L180.5 302L180.7 300.8L180.8 299.6L180.9 298.4L181 297.2L181.2 295.9L181.3 294.7L181.5 293.6L181.6 292.5L181.8 291.4L182 290.5L182.3 289.6L182.5 288.8L182.9 288.2L183.2 287.6L183.6 287.2L184 286.9L184.5 286.7L185 286.7L185.6 286.8L186.1 287L186.8 287.3L187.4 287.7L188.1 288.3L188.9 288.9L189.6 289.6L190.4 290.4L191.2 291.2L192 292.1L192.8 293L193.7 293.9L194.5 294.8L195.3 295.7L196.1 296.6L196.9 297.4L197.7 298.2L198.4 298.9L199.2 299.5L199.8 300L200.5 300.4L201.1 300.7L201.7 300.9L202.3 301L202.8 300.9L203.2 300.7L203.6 300.4L204 299.9L204.4 299.3L204.7 298.7L204.9 297.9L205.2 297L205.4 296L205.6 294.9L205.7 293.8L205.9 292.7L206 291.5L206.1 290.2L206.3 289L206.4 287.8L206.5 286.6L206.7 285.4L206.8 284.3L207 283.3L207.2 282.3L207.5 281.4L207.8 280.7L208.1 280L208.4 279.4L208.8 279L209.2 278.7L209.7 278.5L210.2 278.5L210.8 278.6L211.3 278.8L212 279.1L212.6 279.5L213.3 280.1L214.1 280.7L214.8 281.4L215.6 282.2L216.4 283L217.2 283.9L218 284.8L218.9 285.7L219.7 286.6L220.5 287.5L221.3 288.4L222.1 289.2L222.9 290L223.6 290.7L224.4 291.3L225 291.8L225.7 292.2L226.3 292.5L226.9 292.7L227.5 292.8L228 292.7L228.4 292.5L228.8 292.2L229.2 291.7L229.6 291.2L229.9 290.5L230.1 289.7L230.4 288.8L230.6 287.8L230.8 286.8L230.9 285.7L231.1 284.5L231.2 283.3L231.3 282.1L231.5 280.8L231.6 279.6L231.7 278.4L231.9 277.3L232 276.1L232.2 275.1L232.4 274.1L232.7 273.3L233 272.5L233.3 271.8L233.6 271.3L234 270.8L234.4 270.5L234.9 270.4L235.4 270.3L246 276.5" fill="none" stroke="#00adef" stroke-width="4.2" stroke-linecap="butt" stroke-linejoin="round"/><polygon points="263,270.5 242.9,268.1 248.2,284.9" fill="#00adef"/><text x="789.4" y="569.3" font-family="'Liberation Sans', Arial, Helvetica, sans-serif" font-size="29.8" text-anchor="middle" font-weight="normal" font-style="normal" fill="#000" >Initial</text><text x="1208.3" y="568.7" font-family="'Liberation Sans', Arial, Helvetica, sans-serif" font-size="29.8" text-anchor="middle" font-weight="normal" font-style="normal" fill="#000" >Intermediate</text><text x="1640.4" y="569.2" font-family="'Liberation Sans', Arial, Helvetica, sans-serif" font-size="29.8" text-anchor="middle" font-weight="normal" font-style="normal" fill="#000" >Final</text><line x1="945.5" y1="570.5" x2="945.5" y2="788.5" stroke="#50609a" stroke-width="1.3" stroke-linecap="butt" stroke-dasharray="5.2 3.6 1.2 3.4"/><line x1="1204.8" y1="628" x2="1204.8" y2="784" stroke="#50609a" stroke-width="1.3" stroke-linecap="butt" stroke-dasharray="5.2 3.6 1.2 3.4"/><line x1="1474.7" y1="570.8" x2="1474.7" y2="788.8" stroke="#50609a" stroke-width="1.3" stroke-linecap="butt" stroke-dasharray="5.2 3.6 1.2 3.4"/><text x="689.2" y="621.6" font-family="'Liberation Sans', Arial, Helvetica, sans-serif" font-size="29.8" text-anchor="start" font-weight="normal" font-style="normal" fill="#000" >(i)</text><text x="977.1" y="621.6" font-family="'Liberation Sans', Arial, Helvetica, sans-serif" font-size="29.8" text-anchor="start" font-weight="normal" font-style="normal" fill="#000" >(ii)</text><text x="1226.5" y="621.6" font-family="'Liberation Sans', Arial, Helvetica, sans-serif" font-size="29.8" text-anchor="start" font-weight="normal" font-style="normal" fill="#000" >(iii)</text><text x="1504" y="621.6" font-family="'Liberation Sans', Arial, Helvetica, sans-serif" font-size="29.8" text-anchor="start" font-weight="normal" font-style="normal" fill="#000" >(iv)</text><text x="689.7" y="664.6" font-family="'Liberation Sans', Arial, Helvetica, sans-serif" font-size="21.4" text-anchor="start" font-weight="normal" font-style="normal" fill="#000" >3d</text><line x1="719" y1="660.2" x2="762.2" y2="660.2" stroke="#000" stroke-width="3.3" stroke-linecap="butt" /><text x="766.9" y="689.5" font-family="'Liberation Sans', Arial, Helvetica, sans-serif" font-size="21.4" text-anchor="start" font-weight="normal" font-style="normal" fill="#000" >2p</text><line x1="797.3" y1="686.7" x2="840.7" y2="686.7" stroke="#000" stroke-width="3.3" stroke-linecap="butt" /><text x="767.8" y="786.4" font-family="'Liberation Sans', Arial, Helvetica, sans-serif" font-size="21.4" text-anchor="start" font-weight="normal" font-style="normal" fill="#000" >1s</text><line x1="794.8" y1="781.2" x2="838.1" y2="781.2" stroke="#000" stroke-width="3.3" stroke-linecap="butt" /><line x1="873" y1="660" x2="916.3" y2="660" stroke="#000" stroke-width="3.3" stroke-linecap="butt" /><text x="976.6" y="667" font-family="'Liberation Sans', Arial, Helvetica, sans-serif" font-size="21.4" text-anchor="start" font-weight="normal" font-style="normal" fill="#000" >3d</text><line x1="1006.3" y1="661.1" x2="1049.6" y2="661.1" stroke="#000" stroke-width="3.3" stroke-linecap="butt" /><text x="1050.4" y="691.9" font-family="'Liberation Sans', Arial, Helvetica, sans-serif" font-size="21.4" text-anchor="start" font-weight="normal" font-style="normal" fill="#000" >2p</text><line x1="1083.2" y1="687.8" x2="1126.5" y2="687.8" stroke="#000" stroke-width="3.3" stroke-linecap="butt" /><text x="1052.1" y="787.5" font-family="'Liberation Sans', Arial, Helvetica, sans-serif" font-size="21.4" text-anchor="start" font-weight="normal" font-style="normal" fill="#000" >1s</text><line x1="1082.5" y1="782.3" x2="1124.8" y2="782.3" stroke="#000" stroke-width="3.3" stroke-linecap="butt" /><line x1="1160.1" y1="661.1" x2="1203.4" y2="661.1" stroke="#000" stroke-width="3.3" stroke-linecap="butt" /><text x="1219.3" y="665.9" font-family="'Liberation Sans', Arial, Helvetica, sans-serif" font-size="21.4" text-anchor="start" font-weight="normal" font-style="normal" fill="#000" >3d</text><line x1="1251.8" y1="660.3" x2="1295" y2="660.3" stroke="#000" stroke-width="3.3" stroke-linecap="butt" /><text x="1297.3" y="690.4" font-family="'Liberation Sans', Arial, Helvetica, sans-serif" font-size="21.4" text-anchor="start" font-weight="normal" font-style="normal" fill="#000" >2p</text><line x1="1329.5" y1="686.5" x2="1372.1" y2="686.5" stroke="#000" stroke-width="3.3" stroke-linecap="butt" /><text x="1299" y="786.1" font-family="'Liberation Sans', Arial, Helvetica, sans-serif" font-size="21.4" text-anchor="start" font-weight="normal" font-style="normal" fill="#000" >1s</text><line x1="1327.2" y1="781.2" x2="1370.4" y2="781.2" stroke="#000" stroke-width="3.3" stroke-linecap="butt" /><line x1="1406.5" y1="660.3" x2="1449.8" y2="660.3" stroke="#000" stroke-width="3.3" stroke-linecap="butt" /><text x="1506.4" y="667.5" font-family="'Liberation Sans', Arial, Helvetica, sans-serif" font-size="21.4" text-anchor="start" font-weight="normal" font-style="normal" fill="#000" >3d</text><line x1="1535" y1="661.6" x2="1578.6" y2="661.6" stroke="#000" stroke-width="3.3" stroke-linecap="butt" /><text x="1579.2" y="692.1" font-family="'Liberation Sans', Arial, Helvetica, sans-serif" font-size="21.4" text-anchor="start" font-weight="normal" font-style="normal" fill="#000" >2p</text><line x1="1612.3" y1="687.8" x2="1655.6" y2="687.8" stroke="#000" stroke-width="3.3" stroke-linecap="butt" /><text x="1580.8" y="787.1" font-family="'Liberation Sans', Arial, Helvetica, sans-serif" font-size="21.4" text-anchor="start" font-weight="normal" font-style="normal" fill="#000" >1s</text><line x1="1609.7" y1="782.2" x2="1654" y2="782.2" stroke="#000" stroke-width="3.3" stroke-linecap="butt" /><line x1="1688.4" y1="661.6" x2="1731.6" y2="661.6" stroke="#000" stroke-width="3.3" stroke-linecap="butt" /><line x1="740.4" y1="658.6" x2="740.4" y2="635.1" stroke="#b20d1c" stroke-width="4.2" stroke-linecap="butt" /><polygon points="740.4,623.1 747,635.6 733.8,635.6" fill="#b20d1c"/><line x1="893.8" y1="622.9" x2="893.8" y2="646.7" stroke="#1a5db3" stroke-width="4.2" stroke-linecap="butt" /><polygon points="893.8,658.7 900.4,646.2 887.2,646.2" fill="#1a5db3"/><line x1="808.6" y1="685.1" x2="808.6" y2="661.6" stroke="#b20d1c" stroke-width="4.2" stroke-linecap="butt" /><polygon points="808.6,649.6 815.2,662.1 802,662.1" fill="#b20d1c"/><line x1="824.3" y1="649.6" x2="824.3" y2="673.4" stroke="#1a5db3" stroke-width="4.2" stroke-linecap="butt" /><polygon points="824.3,685.4 830.9,672.9 817.7,672.9" fill="#1a5db3"/><line x1="808.4" y1="779.6" x2="808.4" y2="756.1" stroke="#b20d1c" stroke-width="4.2" stroke-linecap="butt" /><polygon points="808.4,744.1 815,756.6 801.8,756.6" fill="#b20d1c"/><line x1="824.2" y1="744.1" x2="824.2" y2="767.9" stroke="#1a5db3" stroke-width="4.2" stroke-linecap="butt" /><polygon points="824.2,779.9 830.8,767.4 817.6,767.4" fill="#1a5db3"/><line x1="1019" y1="624" x2="1019" y2="647.8" stroke="#254b96" stroke-width="4.2" stroke-linecap="butt" /><polygon points="1019,659.8 1025.6,647.3 1012.4,647.3" fill="#254b96"/><line x1="1035.4" y1="659.5" x2="1035.4" y2="636" stroke="#b20d1c" stroke-width="4.2" stroke-linecap="butt" /><polygon points="1035.4,624 1042,636.5 1028.8,636.5" fill="#b20d1c"/><line x1="1095.3" y1="686.2" x2="1095.3" y2="662.7" stroke="#b20d1c" stroke-width="4.2" stroke-linecap="butt" /><polygon points="1095.3,650.7 1101.9,663.2 1088.7,663.2" fill="#b20d1c"/><line x1="1111.6" y1="650.7" x2="1111.6" y2="674.5" stroke="#254b96" stroke-width="4.2" stroke-linecap="butt" /><polygon points="1111.6,686.5 1118.2,674 1105,674" fill="#254b96"/><line x1="1104" y1="780.7" x2="1104" y2="757.2" stroke="#b20d1c" stroke-width="4.2" stroke-linecap="butt" /><polygon points="1104,745.2 1110.6,757.7 1097.4,757.7" fill="#b20d1c"/><line x1="1180.2" y1="624" x2="1180.2" y2="647.8" stroke="#254b96" stroke-width="4.2" stroke-linecap="butt" /><polygon points="1180.2,659.8 1186.8,647.3 1173.6,647.3" fill="#254b96"/><line x1="1271.5" y1="623.2" x2="1271.5" y2="647" stroke="#254b96" stroke-width="4.2" stroke-linecap="butt" /><polygon points="1271.5,659 1278.1,646.5 1264.9,646.5" fill="#254b96"/><line x1="1340.3" y1="684.9" x2="1340.3" y2="661.4" stroke="#b20d1c" stroke-width="4.2" stroke-linecap="butt" /><polygon points="1340.3,649.4 1346.9,661.9 1333.7,661.9" fill="#b20d1c"/><line x1="1356.7" y1="649.4" x2="1356.7" y2="673.2" stroke="#254b96" stroke-width="4.2" stroke-linecap="butt" /><polygon points="1356.7,685.2 1363.3,672.7 1350.1,672.7" fill="#254b96"/><line x1="1349.1" y1="779.6" x2="1349.1" y2="756.1" stroke="#b20d1c" stroke-width="4.2" stroke-linecap="butt" /><polygon points="1349.1,744.1 1355.7,756.6 1342.5,756.6" fill="#b20d1c"/><line x1="1418.9" y1="623.2" x2="1418.9" y2="647" stroke="#254b96" stroke-width="4.2" stroke-linecap="butt" /><polygon points="1418.9,659 1425.5,646.5 1412.3,646.5" fill="#254b96"/><line x1="1436.6" y1="658.7" x2="1436.6" y2="635.2" stroke="#b20d1c" stroke-width="4.2" stroke-linecap="butt" /><polygon points="1436.6,623.2 1443.2,635.7 1430,635.7" fill="#b20d1c"/><line x1="1554.6" y1="624.5" x2="1554.6" y2="648.3" stroke="#254b96" stroke-width="4.2" stroke-linecap="butt" /><polygon points="1554.6,660.3 1561.2,647.8 1548,647.8" fill="#254b96"/><line x1="1626.1" y1="686.2" x2="1626.1" y2="662.7" stroke="#b20d1c" stroke-width="4.2" stroke-linecap="butt" /><polygon points="1626.1,650.7 1632.7,663.2 1619.5,663.2" fill="#b20d1c"/><line x1="1640.8" y1="650.7" x2="1640.8" y2="674.5" stroke="#254b96" stroke-width="4.2" stroke-linecap="butt" /><polygon points="1640.8,686.5 1647.4,674 1634.2,674" fill="#254b96"/><line x1="1623" y1="745.1" x2="1623" y2="768.9" stroke="#254b96" stroke-width="4.2" stroke-linecap="butt" /><polygon points="1623,780.9 1629.6,768.4 1616.4,768.4" fill="#254b96"/><line x1="1641.2" y1="780.6" x2="1641.2" y2="757.1" stroke="#b20d1c" stroke-width="4.2" stroke-linecap="butt" /><polygon points="1641.2,745.1 1647.8,757.6 1634.6,757.6" fill="#b20d1c"/><line x1="1710.6" y1="660" x2="1710.6" y2="636.5" stroke="#b20d1c" stroke-width="4.2" stroke-linecap="butt" /><polygon points="1710.6,624.5 1717.2,637 1704,637" fill="#b20d1c"/><polygon points="796.3,741 780.7,743.1 783.8,731.5" fill="#f2391c"/><path d="M649.7 667.7L650.5 667.2L651.3 666.8L652 666.4L652.7 666.1L653.5 665.8L654.2 665.5L654.8 665.3L655.5 665.1L656.1 664.9L656.7 664.9L657.3 664.8L657.8 664.9L658.3 665L658.8 665.1L659.3 665.4L659.7 665.6L660.1 666L660.4 666.4L660.7 666.9L661 667.4L661.3 668L661.5 668.6L661.8 669.3L662 670L662.1 670.8L662.3 671.6L662.4 672.4L662.6 673.3L662.7 674.2L662.8 675L662.9 675.9L663 676.8L663.2 677.7L663.3 678.5L663.4 679.4L663.6 680.2L663.7 681L663.9 681.8L664.1 682.5L664.3 683.2L664.6 683.8L664.8 684.4L665.1 684.9L665.5 685.3L665.8 685.7L666.2 686.1L666.6 686.4L667.1 686.6L667.6 686.7L668.1 686.8L668.6 686.8L669.2 686.8L669.8 686.7L670.4 686.6L671.1 686.4L671.8 686.1L672.5 685.8L673.2 685.5L673.9 685.2L674.7 684.8L675.5 684.4L676.2 683.9L677 683.5L677.8 683.1L678.6 682.6L679.3 682.2L680.1 681.8L680.9 681.4L681.6 681L682.3 680.7L683.1 680.4L683.7 680.1L684.4 679.9L685.1 679.7L685.7 679.6L686.3 679.6L686.8 679.6L687.4 679.6L687.9 679.7L688.3 679.9L688.8 680.2L689.2 680.5L689.5 680.9L689.9 681.3L690.2 681.8L690.5 682.4L690.7 683L690.9 683.6L691.2 684.3L691.3 685.1L691.5 685.8L691.7 686.6L691.8 687.5L691.9 688.3L692 689.2L692.2 690.1L692.3 691L692.4 691.9L692.5 692.7L692.6 693.6L692.8 694.4L692.9 695.3L693.1 696L693.3 696.8L693.5 697.5L693.7 698.1L694 698.7L694.3 699.3L694.6 699.8L694.9 700.2L695.3 700.6L695.7 700.9L696.1 701.2L696.6 701.4L697.1 701.5L697.6 701.5L698.2 701.5L698.8 701.5L699.4 701.4L700 701.2L700.7 701L701.4 700.7L702.1 700.4L702.8 700.1L703.6 699.7L704.3 699.3L705.1 698.9L705.9 698.5L706.6 698L707.4 697.6L708.2 697.2L709 696.8L709.7 696.3L710.5 696L711.2 695.6L711.9 695.3L712.6 695L713.3 694.7L714 694.6L714.6 694.4L715.2 694.3L715.8 694.3L716.4 694.3L716.9 694.4L717.4 694.5L717.8 694.7L718.2 695L718.6 695.4L719 695.8L719.3 696.2L719.6 696.7L719.9 697.3L720.1 697.9L720.3 698.6L720.5 699.3L720.7 700.1L720.9 700.9L721 701.7L721.2 702.5L721.3 703.4L721.4 704.3L721.5 705.2L721.6 706.1L721.8 706.9L721.9 707.8L722 708.7L722.2 709.5L722.3 710.3L722.5 711.1L722.7 711.8L722.9 712.5L723.1 713.1L723.4 713.7L723.7 714.2L724 714.7L724.4 715.1L724.8 715.5L725.2 715.7L725.6 716L726.1 716.1L726.6 716.2L727.1 716.3L727.7 716.2L728.3 716.2L728.9 716L729.6 715.8L730.3 715.6L731 715.3L731.7 715L732.4 714.7L733.2 714.3L733.9 713.9L734.7 713.5L735.5 713L736.3 712.6L737 712.2L737.8 711.7L738.6 711.3L739.3 710.9L740.1 710.5L740.8 710.2L741.5 709.9L742.2 709.6L742.9 709.4L743.6 709.2L744.2 709.1L744.8 709L745.3 709L745.9 709L746.4 709.2L746.9 709.3L747.3 709.6L747.7 709.9L748.1 710.2L748.4 710.7L748.7 711.1L749 711.7L749.3 712.3L749.5 712.9L749.7 713.6L749.9 714.3L750.1 715.1L750.3 715.9L750.4 716.8L750.5 717.6L750.6 718.5L750.8 719.4L750.9 720.3L751 721.1L751.1 722L751.2 722.9L751.4 723.7L751.5 724.5L751.7 725.3L751.9 726.1L752.1 726.8L752.3 727.5L752.5 728.1L752.8 728.6L753.1 729.1L753.5 729.6L783.7 737.7" fill="none" stroke="#f2391c" stroke-width="3.8" stroke-linejoin="round" stroke-linecap="round"/><text font-family="'Liberation Sans', Arial, Helvetica, sans-serif" font-size="21" font-style="italic" fill="#000" transform="translate(683 723.5) rotate(30.5)">ħk<tspan font-size="13.5" dy="4.5">i</tspan><tspan dy="-4.5">, ħω</tspan><tspan font-size="13.5" dy="4.5">i</tspan></text><path d="M819.5 743.5C818.1 740.3 815.9 729.7 811.2 724.2C806.5 718.7 798.1 714.1 791.5 710.6C784.9 707.1 778.4 706.8 771.8 703C765.2 699.2 756.8 692.8 752.1 687.9C747.4 683 744.9 675.9 743.5 673.5" fill="none" stroke="#4a68a8" stroke-width="1.3" stroke-linejoin="round" stroke-linecap="round" /><polygon points="740.8,666.6 745.6,674.6 739.4,675.8" fill="#4a68a8"/><path d="M1041.2 637.1C1043.5 637.8 1052.2 639.6 1055.3 641.2C1058.4 642.8 1058.2 644.6 1060 646.5C1061.8 648.4 1063.3 650.9 1065.9 652.4C1068.5 653.9 1073.9 654.7 1075.5 655.2" fill="none" stroke="#c0283a" stroke-width="1.5" stroke-linejoin="round" stroke-linecap="round" stroke-dasharray="3 2"/><polygon points="1081.5,655.8 1073.7,651.6 1074.4,659.2" fill="#c0283a"/><path d="M1100 649.4C1101.6 648.5 1105.7 645.3 1109.4 644.1C1113.1 642.9 1119.1 642.1 1122.4 642.4C1125.7 642.7 1127.2 644.7 1129.4 645.9C1131.6 647.1 1132.3 648.9 1135.3 649.4C1138.2 649.9 1143.6 649.7 1147.1 648.8C1150.6 647.9 1154.4 645.1 1156.5 644.1C1158.6 643.1 1159 642.9 1159.5 642.6" fill="none" stroke="#c0283a" stroke-width="1.5" stroke-linejoin="round" stroke-linecap="round" /><polygon points="1164.5,640.4 1156.4,640.4 1159.4,647.4" fill="#c0283a"/><polygon points="1783.6,662.6 1772.8,674.1 1767.8,662.8" fill="#f2391c"/><path d="M1640.5 739.8L1640.6 738.9L1640.7 738L1640.8 737.2L1640.9 736.4L1641 735.6L1641.2 734.8L1641.4 734.1L1641.6 733.5L1641.8 732.9L1642.1 732.4L1642.4 731.9L1642.8 731.5L1643.2 731.2L1643.6 730.9L1644 730.7L1644.5 730.6L1645.1 730.5L1645.6 730.5L1646.2 730.5L1646.9 730.6L1647.5 730.8L1648.2 731L1648.9 731.3L1649.7 731.6L1650.4 731.9L1651.2 732.3L1652 732.7L1652.8 733.1L1653.6 733.5L1654.4 734L1655.2 734.4L1656.1 734.8L1656.9 735.3L1657.7 735.7L1658.5 736.1L1659.2 736.4L1660 736.7L1660.7 737L1661.4 737.3L1662.1 737.4L1662.7 737.6L1663.3 737.7L1663.9 737.7L1664.5 737.6L1665 737.5L1665.4 737.3L1665.9 737.1L1666.3 736.8L1666.7 736.4L1667 736L1667.3 735.5L1667.5 734.9L1667.8 734.3L1668 733.6L1668.1 732.9L1668.3 732.2L1668.4 731.4L1668.5 730.5L1668.6 729.6L1668.7 728.8L1668.8 727.8L1668.8 726.9L1668.9 726L1668.9 725.1L1669 724.2L1669.1 723.3L1669.2 722.4L1669.3 721.5L1669.4 720.7L1669.5 719.9L1669.7 719.2L1669.8 718.5L1670.1 717.8L1670.3 717.2L1670.6 716.7L1670.9 716.2L1671.2 715.8L1671.6 715.4L1672 715.2L1672.5 714.9L1673 714.8L1673.5 714.7L1674 714.7L1674.6 714.7L1675.3 714.8L1675.9 715L1676.6 715.2L1677.3 715.4L1678.1 715.7L1678.8 716.1L1679.6 716.4L1680.4 716.8L1681.2 717.3L1682 717.7L1682.8 718.1L1683.6 718.6L1684.4 719L1685.3 719.4L1686 719.8L1686.8 720.2L1687.6 720.6L1688.4 720.9L1689.1 721.2L1689.8 721.5L1690.5 721.6L1691.1 721.8L1691.7 721.9L1692.3 721.9L1692.9 721.9L1693.4 721.8L1693.9 721.6L1694.3 721.4L1694.7 721.1L1695.1 720.7L1695.4 720.3L1695.7 719.8L1696 719.2L1696.2 718.6L1696.4 718L1696.6 717.2L1696.8 716.5L1696.9 715.7L1697 714.9L1697.1 714L1697.2 713.1L1697.2 712.2L1697.3 711.3L1697.4 710.3L1697.4 709.4L1697.5 708.5L1697.6 707.6L1697.6 706.7L1697.7 705.8L1697.8 705L1698 704.2L1698.1 703.5L1698.3 702.8L1698.5 702.1L1698.8 701.5L1699 701L1699.3 700.5L1699.7 700.1L1700 699.7L1700.5 699.4L1700.9 699.2L1701.4 699L1701.9 698.9L1702.5 698.9L1703 698.9L1703.7 699L1704.3 699.2L1705 699.4L1705.7 699.6L1706.4 699.9L1707.2 700.3L1708 700.6L1708.8 701L1709.6 701.4L1710.4 701.9L1711.2 702.3L1712 702.7L1712.8 703.2L1713.6 703.6L1714.4 704L1715.2 704.4L1716 704.8L1716.7 705.1L1717.5 705.4L1718.2 705.6L1718.9 705.8L1719.5 706L1720.1 706.1L1720.7 706.1L1721.3 706.1L1721.8 706L1722.3 705.8L1722.7 705.6L1723.2 705.3L1723.5 705L1723.9 704.5L1724.2 704.1L1724.4 703.5L1724.7 702.9L1724.9 702.3L1725.1 701.6L1725.2 700.8L1725.4 700L1725.5 699.2L1725.6 698.3L1725.6 697.4L1725.7 696.5L1725.8 695.6L1725.8 694.7L1725.9 693.8L1726 692.8L1726 691.9L1726.1 691L1726.2 690.2L1726.3 689.3L1726.4 688.5L1726.6 687.8L1726.8 687.1L1727 686.4L1727.2 685.8L1727.5 685.2L1727.8 684.8L1728.1 684.3L1728.5 684L1728.9 683.7L1729.3 683.4L1729.8 683.3L1730.3 683.2L1730.9 683.1L1731.5 683.2L1732.1 683.2L1732.7 683.4L1733.4 683.6L1734.1 683.8L1734.8 684.1L1735.6 684.4L1736.4 684.8L1737.1 685.2L1737.9 685.6L1738.8 686L1739.6 686.4L1740.4 686.9L1741.2 687.3L1742 687.8L1742.8 688.2L1743.6 688.6L1744.4 688.9L1745.1 689.3L1745.9 689.6L1746.6 689.8L1747.3 690L1747.9 690.2L1748.6 690.3L1749.1 690.3L1749.7 690.3L1750.2 690.2L1750.7 690.1L1751.2 689.9L1751.6 689.6L1752 689.2L1752.3 688.8L1752.6 688.4L1752.9 687.8L1753.1 687.2L1753.4 686.6L1753.5 685.9L1753.7 685.1L1753.8 684.3L1753.9 683.5L1754 682.7L1754.1 681.8L1754.2 680.9L1754.3 680L1754.3 679L1754.4 678.1L1754.4 677.2L1754.5 676.3L1754.6 675.4L1771.7 667.8" fill="none" stroke="#f2391c" stroke-width="3.8" stroke-linejoin="round" stroke-linecap="round"/><text font-family="'Liberation Sans', Arial, Helvetica, sans-serif" font-size="21" font-style="italic" fill="#000" transform="translate(1690 760) rotate(-30)">ħk<tspan font-size="13.5" dy="4.5">o</tspan><tspan dy="-4.5">, ħω</tspan><tspan font-size="13.5" dy="4.5">o</tspan></text><path d="M1713.6 673.3C1712.2 676.7 1710.9 687.8 1705.5 693.6C1700.1 699.4 1688.4 705.2 1681.1 708.2C1673.8 711.2 1668.5 708.7 1661.7 711.4C1655 714.1 1645.5 719.9 1640.6 724.4C1635.6 728.9 1633.4 736.1 1632 738.5" fill="none" stroke="#4a68a8" stroke-width="1.3" stroke-linejoin="round" stroke-linecap="round" stroke-dasharray="3 2"/><polygon points="1629.2,746 1628.2,737.5 1634.6,740.2" fill="#4a68a8"/>
</svg>
</body></html>
